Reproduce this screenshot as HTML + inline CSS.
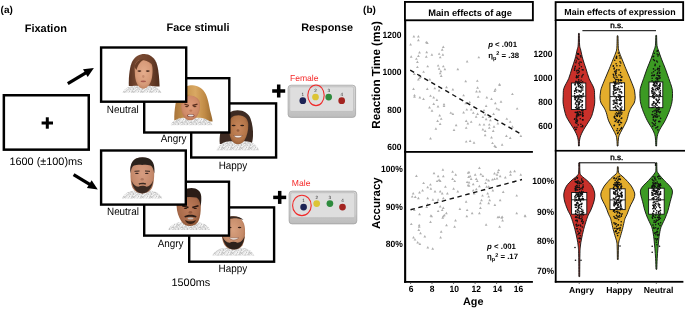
<!DOCTYPE html>
<html><head><meta charset="utf-8"><style>
html,body{margin:0;padding:0;background:#fff;}
svg{display:block;filter:blur(0.35px);}
text{font-family:"Liberation Sans",sans-serif;text-rendering:geometricPrecision;}
</style></head><body>
<svg width="685" height="309" viewBox="0 0 685 309" font-family="Liberation Sans, sans-serif">
<defs>
<filter id="bl" x="-20%" y="-20%" width="140%" height="140%"><feGaussianBlur stdDeviation="0.45"/></filter>
<filter id="bl2" x="-50%" y="-50%" width="200%" height="200%"><feGaussianBlur stdDeviation="0.7"/></filter>
<pattern id="knit" width="9" height="7" patternUnits="userSpaceOnUse"><rect x="0" y="0" width="1" height="1" fill="#e2e2e2"/><rect x="1" y="0" width="1" height="1" fill="#e8e8e8"/><rect x="2" y="0" width="1" height="1" fill="#f6f6f6"/><rect x="3" y="0" width="1" height="1" fill="#c4c4c4"/><rect x="4" y="0" width="1" height="1" fill="#f2f2f2"/><rect x="5" y="0" width="1" height="1" fill="#dcdcdc"/><rect x="6" y="0" width="1" height="1" fill="#c4c4c4"/><rect x="7" y="0" width="1" height="1" fill="#d6d6d6"/><rect x="8" y="0" width="1" height="1" fill="#cecece"/><rect x="0" y="1" width="1" height="1" fill="#e8e8e8"/><rect x="1" y="1" width="1" height="1" fill="#f2f2f2"/><rect x="2" y="1" width="1" height="1" fill="#dcdcdc"/><rect x="3" y="1" width="1" height="1" fill="#eeeeee"/><rect x="4" y="1" width="1" height="1" fill="#f6f6f6"/><rect x="5" y="1" width="1" height="1" fill="#cecece"/><rect x="6" y="1" width="1" height="1" fill="#dcdcdc"/><rect x="7" y="1" width="1" height="1" fill="#c4c4c4"/><rect x="8" y="1" width="1" height="1" fill="#dcdcdc"/><rect x="0" y="2" width="1" height="1" fill="#eeeeee"/><rect x="1" y="2" width="1" height="1" fill="#e2e2e2"/><rect x="2" y="2" width="1" height="1" fill="#d6d6d6"/><rect x="3" y="2" width="1" height="1" fill="#eeeeee"/><rect x="4" y="2" width="1" height="1" fill="#d6d6d6"/><rect x="5" y="2" width="1" height="1" fill="#cecece"/><rect x="6" y="2" width="1" height="1" fill="#d6d6d6"/><rect x="7" y="2" width="1" height="1" fill="#f2f2f2"/><rect x="8" y="2" width="1" height="1" fill="#d6d6d6"/><rect x="0" y="3" width="1" height="1" fill="#d6d6d6"/><rect x="1" y="3" width="1" height="1" fill="#c4c4c4"/><rect x="2" y="3" width="1" height="1" fill="#c4c4c4"/><rect x="3" y="3" width="1" height="1" fill="#dcdcdc"/><rect x="4" y="3" width="1" height="1" fill="#dcdcdc"/><rect x="5" y="3" width="1" height="1" fill="#d6d6d6"/><rect x="6" y="3" width="1" height="1" fill="#d6d6d6"/><rect x="7" y="3" width="1" height="1" fill="#e2e2e2"/><rect x="8" y="3" width="1" height="1" fill="#e8e8e8"/><rect x="0" y="4" width="1" height="1" fill="#dcdcdc"/><rect x="1" y="4" width="1" height="1" fill="#f6f6f6"/><rect x="2" y="4" width="1" height="1" fill="#dcdcdc"/><rect x="3" y="4" width="1" height="1" fill="#d6d6d6"/><rect x="4" y="4" width="1" height="1" fill="#dcdcdc"/><rect x="5" y="4" width="1" height="1" fill="#eeeeee"/><rect x="6" y="4" width="1" height="1" fill="#e2e2e2"/><rect x="7" y="4" width="1" height="1" fill="#c4c4c4"/><rect x="8" y="4" width="1" height="1" fill="#e8e8e8"/><rect x="0" y="5" width="1" height="1" fill="#eeeeee"/><rect x="1" y="5" width="1" height="1" fill="#d6d6d6"/><rect x="2" y="5" width="1" height="1" fill="#d6d6d6"/><rect x="3" y="5" width="1" height="1" fill="#e2e2e2"/><rect x="4" y="5" width="1" height="1" fill="#cecece"/><rect x="5" y="5" width="1" height="1" fill="#e8e8e8"/><rect x="6" y="5" width="1" height="1" fill="#e2e2e2"/><rect x="7" y="5" width="1" height="1" fill="#c4c4c4"/><rect x="8" y="5" width="1" height="1" fill="#e8e8e8"/><rect x="0" y="6" width="1" height="1" fill="#cecece"/><rect x="1" y="6" width="1" height="1" fill="#e2e2e2"/><rect x="2" y="6" width="1" height="1" fill="#e8e8e8"/><rect x="3" y="6" width="1" height="1" fill="#e2e2e2"/><rect x="4" y="6" width="1" height="1" fill="#f2f2f2"/><rect x="5" y="6" width="1" height="1" fill="#e8e8e8"/><rect x="6" y="6" width="1" height="1" fill="#d6d6d6"/><rect x="7" y="6" width="1" height="1" fill="#f2f2f2"/><rect x="8" y="6" width="1" height="1" fill="#f2f2f2"/></pattern>
<radialGradient id="skinA" cx="0.5" cy="0.45" r="0.6"><stop offset="0" stop-color="#e4ac8c"/><stop offset="0.7" stop-color="#d69a78"/><stop offset="1" stop-color="#b97c58"/></radialGradient>
<radialGradient id="skinB" cx="0.5" cy="0.45" r="0.6"><stop offset="0" stop-color="#df9c7a"/><stop offset="0.7" stop-color="#cf8a68"/><stop offset="1" stop-color="#b06e4c"/></radialGradient>
<radialGradient id="skinC" cx="0.5" cy="0.45" r="0.6"><stop offset="0" stop-color="#c8875c"/><stop offset="0.7" stop-color="#b27448"/><stop offset="1" stop-color="#8e5834"/></radialGradient>
<radialGradient id="skinD" cx="0.5" cy="0.45" r="0.6"><stop offset="0" stop-color="#d69c80"/><stop offset="0.7" stop-color="#c58a6c"/><stop offset="1" stop-color="#a26a4e"/></radialGradient>
<radialGradient id="skinE" cx="0.5" cy="0.45" r="0.6"><stop offset="0" stop-color="#be7c5a"/><stop offset="0.7" stop-color="#a86a4a"/><stop offset="1" stop-color="#86502f"/></radialGradient>
<radialGradient id="skinF" cx="0.5" cy="0.4" r="0.6"><stop offset="0" stop-color="#d8a07e"/><stop offset="0.7" stop-color="#c58b69"/><stop offset="1" stop-color="#a46a4a"/></radialGradient>
<linearGradient id="hairA" x1="0" y1="0" x2="1" y2="0"><stop offset="0" stop-color="#5a3423"/><stop offset="0.3" stop-color="#7a4a32"/><stop offset="0.7" stop-color="#6e412b"/><stop offset="1" stop-color="#4e2c1c"/></linearGradient>
<linearGradient id="hairB" x1="0" y1="0" x2="1" y2="0"><stop offset="0" stop-color="#a8743a"/><stop offset="0.3" stop-color="#c8954f"/><stop offset="0.55" stop-color="#d9a863"/><stop offset="0.8" stop-color="#c08a45"/><stop offset="1" stop-color="#9a6a30"/></linearGradient>
<linearGradient id="padg" x1="0" y1="0" x2="0" y2="1"><stop offset="0" stop-color="#d6d6d6"/><stop offset="0.7" stop-color="#d0d0d0"/><stop offset="0.8" stop-color="#c4c4c4"/><stop offset="1" stop-color="#bdbdbd"/></linearGradient>

</defs>
<rect width="685" height="309" fill="#fff"/>
<text x="0.6" y="12.7" font-size="10" font-weight="bold" text-anchor="start" fill="#000" >(a)</text>
<text x="24.7" y="31.5" font-size="11" font-weight="bold" text-anchor="start" fill="#000" >Fixation</text>
<text x="166.6" y="31.4" font-size="10.9" font-weight="bold" text-anchor="start" fill="#000" >Face stimuli</text>
<text x="301.2" y="31.2" font-size="10.85" font-weight="bold" text-anchor="start" fill="#000" >Response</text>
<rect x="3.85" y="95.25" width="84.90" height="54.40" fill="#fff" stroke="#000" stroke-width="2.5"/>
<rect x="41.60" y="121.50" width="11.4" height="3" fill="#000"/>
<rect x="45.80" y="117.30" width="3" height="11.4" fill="#000"/>
<text x="9.4" y="164.8" font-size="10.9" font-weight="normal" text-anchor="start" fill="#000" >1600 (±100)ms</text>
<line x1="67.8" y1="83.7" x2="86.20" y2="72.56" stroke="#000" stroke-width="3.3"/>
<polygon points="93.9,67.9 87.68,76.93 83.01,69.23" fill="#000"/>
<line x1="73.6" y1="174.6" x2="90.12" y2="184.70" stroke="#000" stroke-width="3.3"/>
<polygon points="97.8,189.4 86.92,188.02 91.62,180.34" fill="#000"/>
<rect x="191.20" y="103.40" width="84.90" height="54.10" fill="#fff" stroke="#000" stroke-width="2.4"/>
<g filter="url(#bl)"><path d="M219.8,144 C219,136 221,128 224,121 C227,113 232,110.3 237.5,110.3 C244,110.3 248.5,113.5 250.5,118.4 C252.5,124 253.3,130 253,136 C252.8,140 252.2,142.5 251.5,144 Z" fill="#3c2a20"/><path d="M216.3,150.3 C218.0,144.4 224.8,141.2 230.4,141.2 L244.9,141.2 C250.5,141.2 257.3,144.4 259.0,150.3 Z" fill="url(#knit)"/><path d="M228.9,124 C229.1,118.5 232.5,115.3 238.5,115.3 C244.5,115.3 248.1,119 248.3,124.5 C248.5,130 247,136 244.4,140.5 C242.5,143 240.4,144.2 238.3,144.2 C235.5,144.2 233.2,142.8 231.6,140.2 C229.5,136.5 228.7,129.5 228.9,124 Z" fill="url(#skinC)"/><ellipse cx="233.6" cy="125.5" rx="2" ry="0.8" fill="#2a1a12"/><ellipse cx="242.2" cy="125.5" rx="2" ry="0.8" fill="#2a1a12"/><ellipse cx="238" cy="130.5" rx="1.4" ry="1.2" fill="#8a5434" opacity="0.8"/><path d="M233.6,135.5 C235.5,138.6 240.5,138.6 242.6,135.5 Z" fill="#f2ebe6" stroke="#6a3424" stroke-width="0.4"/></g>
<rect x="144.20" y="78.20" width="85.10" height="54.30" fill="#fff" stroke="#000" stroke-width="2.4"/>
<g filter="url(#bl)"><path d="M174.3,120.5 C174,110 176,97 180,91 C183,87 188,85.2 192.5,85.2 C198,85.2 203.5,89 205.7,93.9 C208.5,100 209.5,108 210.5,112 C211.5,116 212.5,119 212.6,121.5 Z" fill="url(#hairB)"/><path d="M170.5,125.2 C172.2,120.4 178.9,117.8 184.4,117.8 L198.7,117.8 C204.2,117.8 210.9,120.4 212.6,125.2 Z" fill="url(#knit)"/><path d="M181,103 C181.5,98.5 185,95.5 189.5,95.5 C195,95.5 199.5,98.5 200,103.5 C200.3,108 199.5,112 197.5,115.5 C195.5,118.8 193,120.2 190.2,120.2 C187,120.2 184.5,118.5 183,115.5 C181.3,112 180.8,107 181,103 Z" fill="url(#skinB)"/><path d="M180.5,102 C182,96 186,94 190,94.8 C186.5,96.5 184,99 182.5,104 Z" fill="#c08a44"/><path d="M184.5,104.2 L189,105.5 M192.5,105.5 L197.5,104.2" stroke="#5a2e1e" stroke-width="1.3"/><ellipse cx="186.8" cy="106.6" rx="1.8" ry="0.7" fill="#4a2818"/><ellipse cx="194.8" cy="106.6" rx="1.8" ry="0.7" fill="#4a2818"/><ellipse cx="190.8" cy="110.6" rx="1.4" ry="1.2" fill="#b87050" opacity="0.8"/><ellipse cx="190.8" cy="115.5" rx="3.7" ry="1.6" fill="#7a3a2e"/><ellipse cx="190.8" cy="115.5" rx="3" ry="1" fill="#e8e4e2"/></g>
<rect x="101.10" y="47.50" width="85.10" height="54.20" fill="#fff" stroke="#000" stroke-width="2.4"/>
<g filter="url(#bl)"><path d="M128.8,86 C128.5,76 129.8,66 132.5,61 C135,56.5 139.5,54 144.4,54 C149.5,54 153.8,57 156.3,62.5 C158.6,68 159.2,78 159.6,86.5 Z" fill="url(#hairA)"/><path d="M122.5,92.8 C124.1,88.2 130.3,85.8 135.4,85.8 L148.6,85.8 C153.7,85.8 159.9,88.2 161.5,92.8 Z" fill="url(#knit)"/><path d="M134.6,68 C134.8,63.5 137,60.5 140,60 C143,59.5 148,60.5 151.5,64 C152.8,66 152.9,72 152.2,76 C151.5,82 148.5,88.3 143.3,88.7 C138.2,88.5 135.6,82 135,76 Z" fill="url(#skinA)"/><path d="M134.3,67 C136,61 140,59 144,59.4 C141,61 138,64 136.5,70 Z" fill="#6a3e28"/><ellipse cx="139.4" cy="71.1" rx="2" ry="0.8" fill="#4a2a1e"/><ellipse cx="147.8" cy="71.1" rx="2" ry="0.8" fill="#4a2a1e"/><ellipse cx="143.3" cy="76.5" rx="1.2" ry="1.4" fill="#c08468" opacity="0.8"/><ellipse cx="143.3" cy="81.4" rx="2.8" ry="0.8" fill="#a85a4e"/></g>
<text transform="translate(106.8,112.6) scale(1,1.08)" x="0" y="0" font-size="9.9" font-weight="normal" text-anchor="start" fill="#000" >Neutral</text>
<text transform="translate(160.7,142.1) scale(1,1.08)" x="0" y="0" font-size="9.9" font-weight="normal" text-anchor="start" fill="#000" >Angry</text>
<text transform="translate(218.7,168.8) scale(1,1.08)" x="0" y="0" font-size="9.9" font-weight="normal" text-anchor="start" fill="#000" >Happy</text>
<rect x="189.20" y="207.40" width="84.90" height="54.30" fill="#fff" stroke="#000" stroke-width="2.4"/>
<g filter="url(#bl)"><path d="M212.3,255.5 C214.0,250.4 220.7,247.7 226.2,247.7 L240.4,247.7 C245.9,247.7 252.6,250.4 254.3,255.5 Z" fill="url(#knit)"/><path d="M221.5,230 C221.5,222 226,216.3 233.5,216.3 C240.5,216.3 244.5,221.5 245,229 C245.3,235 244.8,241 242.5,245.3 C240.5,248.5 237.5,249.5 234,249.5 C230,249.5 226.5,248 224.5,245 C222.3,241.5 221.5,236 221.5,230 Z" fill="url(#skinF)"/><path d="M225,218.5 C227.5,216.8 230.5,216.2 233.5,216.2 C238,216.2 241.5,217.5 243.5,220 C240,218.6 236,218.2 233,218.4 C230,218.6 227,219.3 225,218.5 Z" fill="#3a2a22"/><path d="M222.3,236 C223.5,244 227.5,249.5 234,249.5 C240.5,249.5 243.8,244 244.6,236 C243,240.5 240.5,242.5 237.5,242.8 C235,241.5 232,241.5 229.5,242.8 C226.5,242.5 224,240.5 222.3,236 Z" fill="#2e221b"/><ellipse cx="229.8" cy="227.5" rx="1.8" ry="0.7" fill="#3a2218"/><ellipse cx="239.6" cy="227.5" rx="1.8" ry="0.7" fill="#3a2218"/><path d="M229,237.8 C231,240.6 236.5,240.6 238.8,237.8 Z" fill="#f1e8e2" stroke="#6a3a2a" stroke-width="0.4"/></g>
<rect x="144.20" y="181.70" width="84.80" height="53.90" fill="#fff" stroke="#000" stroke-width="2.4"/>
<g filter="url(#bl)"><path d="M168.0,230.0 C169.7,224.8 176.4,222.0 181.9,222.0 L196.1,222.0 C201.6,222.0 208.3,224.8 210.0,230.0 Z" fill="url(#knit)"/><path d="M176.6,206 C176.5,200 179.5,196.6 183,195.5 C187,194.4 193,194.4 196.5,195.5 C200,197 201,201 200.8,206 C200.8,212 200.3,217 198.5,221 C196.5,224.8 193.5,225.9 190.2,225.9 C186.5,225.9 183.5,224.8 181.5,221.5 C178.5,217 176.8,212 176.6,206 Z" fill="url(#skinE)"/><path d="M179.5,199 C180.5,191 186,187.9 191.5,187.9 C197,187.9 200.8,191 201.2,196 C201.5,199 201.2,203 200.7,206 C199.8,201 198.5,198.3 196,197.6 C192,196.8 187,196.8 183,197.6 C181.5,198 180.5,198.5 179.5,199 Z" fill="#2a1e18"/><path d="M182.2,205.8 L188.5,207.5 M192.3,207.5 L198.5,205.8" stroke="#2a1810" stroke-width="1.4"/><ellipse cx="185.6" cy="208.5" rx="1.8" ry="0.6" fill="#2a1810"/><ellipse cx="195.2" cy="208.5" rx="1.8" ry="0.6" fill="#2a1810"/><ellipse cx="190.4" cy="212.3" rx="1.8" ry="1.4" fill="#8a5036" opacity="0.8"/><path d="M184.3,216.3 C186.5,214.2 194.5,214.2 196.6,216.3 L196,217.6 C193.5,216.6 187.5,216.6 185,217.6 Z" fill="#2a1c16"/><ellipse cx="190.5" cy="218.5" rx="3" ry="1.0" fill="#c4b8b0"/><path d="M185,220 C186.5,225.4 194.5,225.4 196,220 C193.5,221.8 187.5,221.8 185,220 Z" fill="#3a2418"/></g>
<rect x="101.10" y="150.50" width="84.70" height="54.10" fill="#fff" stroke="#000" stroke-width="2.4"/>
<g filter="url(#bl)"><path d="M122.0,198.6 C123.6,193.3 130.1,190.4 135.3,190.4 L149.0,190.4 C154.2,190.4 160.7,193.3 162.3,198.6 Z" fill="url(#knit)"/><path d="M130.5,172 C130.2,165 132.5,160 137,158.3 C140,157.4 144,157.4 147,158.3 C152,160 154.5,165 154.2,172 C154.3,178 153.8,184 152,188 C150,191.5 146.5,193.3 142.3,193.4 C138,193.3 134.6,191.5 132.6,188 C130.8,184 130.3,178 130.5,172 Z" fill="url(#skinD)"/><path d="M130.4,173.5 C129.8,166 131.5,160.5 136,158.5 C140,156.8 145,156.8 149,158.5 C153.5,160.5 155,166 154.3,173.5 C153.5,169 152.5,166.5 150.5,165.5 C147,164.3 144,164.6 142.3,165 C140,164.6 137,164.3 134,165.5 C132,166.5 131,169 130.4,173.5 Z" fill="#2c221e"/><path d="M131.5,180.5 C132.5,187 136,193.2 142.3,193.4 C148.6,193.2 152.2,187 153.2,180.5 C151.5,184.5 149,186.5 146.5,186.8 C144.5,185.5 140.5,185.5 138.2,186.8 C135.5,186.5 133,184.5 131.5,180.5 Z" fill="#3a2c24"/><path d="M138.5,183.6 C140.5,182.6 144.5,182.6 146.2,183.6 L145.5,184.8 C143.5,184.2 141,184.2 139.2,184.8 Z" fill="#3a2a22"/><path d="M134.5,171.3 L139.5,171 M145,171 L150,171.3" stroke="#3a2820" stroke-width="1"/><ellipse cx="136.9" cy="173.4" rx="1.8" ry="0.7" fill="#3a2520"/><ellipse cx="146.8" cy="173.4" rx="1.8" ry="0.7" fill="#3a2520"/><ellipse cx="142.2" cy="179.2" rx="1.6" ry="1.3" fill="#a8705a" opacity="0.8"/></g>
<text transform="translate(107.0,215.4) scale(1,1.08)" x="0" y="0" font-size="9.9" font-weight="normal" text-anchor="start" fill="#000" >Neutral</text>
<text transform="translate(157.7,247.2) scale(1,1.08)" x="0" y="0" font-size="9.9" font-weight="normal" text-anchor="start" fill="#000" >Angry</text>
<text transform="translate(218.6,272.1) scale(1,1.08)" x="0" y="0" font-size="9.9" font-weight="normal" text-anchor="start" fill="#000" >Happy</text>
<text x="171.5" y="286.4" font-size="10.9" font-weight="normal" text-anchor="start" fill="#000" >1500ms</text>
<rect x="272.20" y="89.25" width="13" height="3.5" fill="#000"/>
<rect x="276.95" y="84.50" width="3.5" height="13" fill="#000"/>
<rect x="273.20" y="195.65" width="13" height="3.5" fill="#000"/>
<rect x="277.95" y="190.90" width="3.5" height="13" fill="#000"/>
<rect x="288.1" y="85.2" width="67.50" height="32.20" rx="3" fill="url(#padg)" stroke="#9c9c9c" stroke-width="0.7"/>
<rect x="289.7" y="86.8" width="63.90" height="24.60" rx="1.5" fill="#dedede" stroke="#b4b4b4" stroke-width="0.6"/>
<circle cx="302.80" cy="100.70" r="3.35" fill="#1c2355"/>
<text x="302.80" y="96.00" font-size="4.6" text-anchor="middle" fill="#333">1</text>
<circle cx="315.50" cy="97.00" r="3.35" fill="#dcc435"/>
<text x="315.50" y="92.30" font-size="4.6" text-anchor="middle" fill="#333">2</text>
<circle cx="328.70" cy="97.10" r="3.35" fill="#2e8b3d"/>
<text x="328.70" y="92.40" font-size="4.6" text-anchor="middle" fill="#333">3</text>
<circle cx="341.70" cy="100.70" r="3.35" fill="#a32420"/>
<text x="341.70" y="96.00" font-size="4.6" text-anchor="middle" fill="#333">4</text>
<ellipse cx="316" cy="95.3" rx="8.2" ry="10.3" fill="none" stroke="#f02a2a" stroke-width="1.1"/>
<rect x="289.1" y="191.1" width="67.70" height="32.80" rx="3" fill="url(#padg)" stroke="#9c9c9c" stroke-width="0.7"/>
<rect x="290.7" y="192.7" width="64.10" height="25.00" rx="1.5" fill="#dedede" stroke="#b4b4b4" stroke-width="0.6"/>
<circle cx="303.60" cy="207.10" r="3.35" fill="#1c2355"/>
<text x="303.60" y="202.40" font-size="4.6" text-anchor="middle" fill="#333">1</text>
<circle cx="316.70" cy="203.60" r="3.35" fill="#dcc435"/>
<text x="316.70" y="198.90" font-size="4.6" text-anchor="middle" fill="#333">2</text>
<circle cx="329.90" cy="203.60" r="3.35" fill="#2e8b3d"/>
<text x="329.90" y="198.90" font-size="4.6" text-anchor="middle" fill="#333">3</text>
<circle cx="342.50" cy="207.10" r="3.35" fill="#a32420"/>
<text x="342.50" y="202.40" font-size="4.6" text-anchor="middle" fill="#333">4</text>
<ellipse cx="301.9" cy="205.4" rx="9.3" ry="10.2" fill="none" stroke="#f02a2a" stroke-width="1.1"/>
<text x="289.9" y="80.7" font-size="8.6" font-weight="normal" text-anchor="start" fill="#f52a2a" >Female</text>
<text x="291.8" y="186.1" font-size="8.6" font-weight="normal" text-anchor="start" fill="#f52a2a" >Male</text>
<text x="363.1" y="12.6" font-size="10" font-weight="bold" text-anchor="start" fill="#000" >(b)</text>
<rect x="404.93" y="1.93" width="127.95" height="18.35" fill="#fff" stroke="#000" stroke-width="1.85"/>
<text x="470" y="15.6" font-size="9.3" font-weight="bold" text-anchor="middle" fill="#000" >Main effects of age</text>
<rect x="404.1" y="20" width="2.1" height="262.8" fill="#000"/>
<rect x="404.1" y="151.0" width="128.8" height="1.8" fill="#000"/>
<rect x="404.1" y="281.0" width="128.8" height="1.8" fill="#000"/>
<text transform="translate(401.4,37.7) scale(1,1.07)" x="0" y="0" font-size="8.5" font-weight="bold" text-anchor="end" fill="#000" >1200</text>
<text transform="translate(401.4,75.2) scale(1,1.07)" x="0" y="0" font-size="8.5" font-weight="bold" text-anchor="end" fill="#000" >1000</text>
<text transform="translate(401.4,112.7) scale(1,1.07)" x="0" y="0" font-size="8.5" font-weight="bold" text-anchor="end" fill="#000" >800</text>
<text transform="translate(401.4,150.20000000000002) scale(1,1.07)" x="0" y="0" font-size="8.5" font-weight="bold" text-anchor="end" fill="#000" >600</text>
<text transform="translate(402.8,172.4) scale(1,1.07)" x="0" y="0" font-size="8.5" font-weight="bold" text-anchor="end" fill="#000" >100%</text>
<text transform="translate(402.8,209.5) scale(1,1.07)" x="0" y="0" font-size="8.5" font-weight="bold" text-anchor="end" fill="#000" >90%</text>
<text transform="translate(402.8,247.4) scale(1,1.07)" x="0" y="0" font-size="8.5" font-weight="bold" text-anchor="end" fill="#000" >80%</text>
<text transform="translate(379.7,75) rotate(-90)" font-size="11.7" font-weight="bold" text-anchor="middle">Reaction Time (ms)</text>
<text transform="translate(379.9,203.2) rotate(-90)" font-size="11.5" font-weight="bold" text-anchor="middle">Accuracy</text>
<rect x="410.1" y="282.7" width="1" height="1.1" fill="#444"/>
<rect x="431.5" y="282.7" width="1" height="1.1" fill="#444"/>
<rect x="453.1" y="282.7" width="1" height="1.1" fill="#444"/>
<rect x="474.6" y="282.7" width="1" height="1.1" fill="#444"/>
<rect x="496.1" y="282.7" width="1" height="1.1" fill="#444"/>
<rect x="517.6" y="282.7" width="1" height="1.1" fill="#444"/>
<text transform="translate(411,291.8) scale(1,1.07)" x="0" y="0" font-size="8.5" font-weight="bold" text-anchor="middle" fill="#000" >6</text>
<text transform="translate(432.2,291.8) scale(1,1.07)" x="0" y="0" font-size="8.5" font-weight="bold" text-anchor="middle" fill="#000" >8</text>
<text transform="translate(454.3,291.8) scale(1,1.07)" x="0" y="0" font-size="8.5" font-weight="bold" text-anchor="middle" fill="#000" >10</text>
<text transform="translate(476.3,291.8) scale(1,1.07)" x="0" y="0" font-size="8.5" font-weight="bold" text-anchor="middle" fill="#000" >12</text>
<text transform="translate(497.6,291.8) scale(1,1.07)" x="0" y="0" font-size="8.5" font-weight="bold" text-anchor="middle" fill="#000" >14</text>
<text transform="translate(518.6,291.8) scale(1,1.07)" x="0" y="0" font-size="8.5" font-weight="bold" text-anchor="middle" fill="#000" >16</text>
<text x="473.2" y="305" font-size="10.8" font-weight="bold" text-anchor="middle" fill="#000" >Age</text>
<polygon points="413.9,35.1 412.5,37.6 415.2,37.6" fill="#b0b0b0"/>
<polygon points="418.4,35.1 417.0,37.6 419.8,37.6" fill="#b0b0b0"/>
<polygon points="418.4,38.8 417.0,41.2 419.8,41.2" fill="#b0b0b0"/>
<polygon points="410.6,43.0 409.2,45.5 412.0,45.5" fill="#b0b0b0"/>
<polygon points="426.3,40.8 424.9,43.2 427.7,43.2" fill="#b0b0b0"/>
<polygon points="427.3,41.6 425.9,44.1 428.7,44.1" fill="#b0b0b0"/>
<polygon points="443.3,45.5 441.9,48.0 444.7,48.0" fill="#b0b0b0"/>
<polygon points="442.2,48.2 440.8,50.7 443.6,50.7" fill="#b0b0b0"/>
<polygon points="419.5,51.1 418.1,53.6 420.9,53.6" fill="#b0b0b0"/>
<polygon points="426.7,50.8 425.3,53.2 428.1,53.2" fill="#b0b0b0"/>
<polygon points="431.9,53.2 430.5,55.7 433.2,55.7" fill="#b0b0b0"/>
<polygon points="439.1,52.4 437.8,54.8 440.5,54.8" fill="#b0b0b0"/>
<polygon points="442.9,53.2 441.5,55.7 444.2,55.7" fill="#b0b0b0"/>
<polygon points="440.2,55.9 438.8,58.3 441.6,58.3" fill="#b0b0b0"/>
<polygon points="411.2,55.2 409.8,57.7 412.6,57.7" fill="#b0b0b0"/>
<polygon points="418.4,54.4 417.0,56.9 419.8,56.9" fill="#b0b0b0"/>
<polygon points="416.4,57.4 415.0,59.8 417.8,59.8" fill="#b0b0b0"/>
<polygon points="426.3,55.2 424.9,57.7 427.7,57.7" fill="#b0b0b0"/>
<polygon points="417.4,60.6 416.0,63.1 418.8,63.1" fill="#b0b0b0"/>
<polygon points="467.1,60.0 465.8,62.5 468.5,62.5" fill="#b0b0b0"/>
<polygon points="417.4,65.7 416.0,68.1 418.8,68.1" fill="#b0b0b0"/>
<polygon points="427.7,64.9 426.3,67.3 429.1,67.3" fill="#b0b0b0"/>
<polygon points="438.1,64.2 436.8,66.6 439.5,66.6" fill="#b0b0b0"/>
<polygon points="443.3,64.9 441.9,67.3 444.7,67.3" fill="#b0b0b0"/>
<polygon points="439.1,67.2 437.8,69.7 440.5,69.7" fill="#b0b0b0"/>
<polygon points="444.9,67.8 443.5,70.2 446.2,70.2" fill="#b0b0b0"/>
<polygon points="457.8,67.8 456.4,70.2 459.2,70.2" fill="#b0b0b0"/>
<polygon points="423.6,70.4 422.2,72.8 425.0,72.8" fill="#b0b0b0"/>
<polygon points="440.8,69.8 439.4,72.2 442.2,72.2" fill="#b0b0b0"/>
<polygon points="414.3,72.5 412.9,74.9 415.7,74.9" fill="#b0b0b0"/>
<polygon points="419.5,74.0 418.1,76.4 420.9,76.4" fill="#b0b0b0"/>
<polygon points="420.5,75.6 419.1,78.0 421.9,78.0" fill="#b0b0b0"/>
<polygon points="440.2,71.9 438.8,74.3 441.6,74.3" fill="#b0b0b0"/>
<polygon points="441.2,74.6 439.8,77.0 442.6,77.0" fill="#b0b0b0"/>
<polygon points="418.4,78.1 417.0,80.5 419.8,80.5" fill="#b0b0b0"/>
<polygon points="465.7,79.8 464.3,82.2 467.1,82.2" fill="#b0b0b0"/>
<polygon points="429.8,78.1 428.4,80.5 431.2,80.5" fill="#b0b0b0"/>
<polygon points="419.5,76.7 418.1,79.1 420.9,79.1" fill="#b0b0b0"/>
<polygon points="478.8,55.9 477.4,58.3 480.2,58.3" fill="#b0b0b0"/>
<polygon points="477.3,79.4 475.9,81.8 478.7,81.8" fill="#b0b0b0"/>
<polygon points="499.5,82.9 498.1,85.3 500.9,85.3" fill="#b0b0b0"/>
<polygon points="413.5,87.5 412.1,89.9 414.9,89.9" fill="#b0b0b0"/>
<polygon points="427.3,87.5 425.9,89.9 428.7,89.9" fill="#b0b0b0"/>
<polygon points="434.8,86.9 433.4,89.3 436.2,89.3" fill="#b0b0b0"/>
<polygon points="439.1,89.0 437.8,91.4 440.5,91.4" fill="#b0b0b0"/>
<polygon points="414.5,93.9 413.1,96.3 415.9,96.3" fill="#b0b0b0"/>
<polygon points="414.5,95.4 413.1,97.8 415.9,97.8" fill="#b0b0b0"/>
<polygon points="419.9,96.1 418.5,98.5 421.2,98.5" fill="#b0b0b0"/>
<polygon points="423.5,97.6 422.1,100.0 424.9,100.0" fill="#b0b0b0"/>
<polygon points="430.5,94.4 429.1,96.8 431.9,96.8" fill="#b0b0b0"/>
<polygon points="433.7,96.1 432.3,98.5 435.1,98.5" fill="#b0b0b0"/>
<polygon points="436.9,98.6 435.5,101.0 438.2,101.0" fill="#b0b0b0"/>
<polygon points="444.0,102.9 442.6,105.3 445.4,105.3" fill="#b0b0b0"/>
<polygon points="444.0,104.6 442.6,107.0 445.4,107.0" fill="#b0b0b0"/>
<polygon points="433.7,102.5 432.3,104.9 435.1,104.9" fill="#b0b0b0"/>
<polygon points="438.0,105.0 436.6,107.4 439.4,107.4" fill="#b0b0b0"/>
<polygon points="429.5,106.1 428.1,108.5 430.9,108.5" fill="#b0b0b0"/>
<polygon points="432.0,109.2 430.6,111.7 433.4,111.7" fill="#b0b0b0"/>
<polygon points="450.8,111.4 449.4,113.8 452.2,113.8" fill="#b0b0b0"/>
<polygon points="452.9,112.5 451.5,114.9 454.2,114.9" fill="#b0b0b0"/>
<polygon points="439.7,114.0 438.3,116.4 441.1,116.4" fill="#b0b0b0"/>
<polygon points="441.2,117.4 439.8,119.8 442.6,119.8" fill="#b0b0b0"/>
<polygon points="437.6,119.5 436.2,121.9 439.0,121.9" fill="#b0b0b0"/>
<polygon points="440.1,122.5 438.8,124.9 441.5,124.9" fill="#b0b0b0"/>
<polygon points="456.1,123.8 454.8,126.2 457.5,126.2" fill="#b0b0b0"/>
<polygon points="435.9,127.3 434.5,129.8 437.2,129.8" fill="#b0b0b0"/>
<polygon points="454.0,128.5 452.6,130.9 455.4,130.9" fill="#b0b0b0"/>
<polygon points="430.5,137.0 429.1,139.4 431.9,139.4" fill="#b0b0b0"/>
<polygon points="452.9,88.0 451.5,90.4 454.2,90.4" fill="#b0b0b0"/>
<polygon points="446.5,85.8 445.1,88.2 447.9,88.2" fill="#b0b0b0"/>
<polygon points="463.6,93.9 462.2,96.3 465.0,96.3" fill="#b0b0b0"/>
<polygon points="465.7,101.8 464.3,104.2 467.1,104.2" fill="#b0b0b0"/>
<polygon points="463.6,111.0 462.2,113.4 465.0,113.4" fill="#b0b0b0"/>
<polygon points="466.8,108.2 465.4,110.6 468.2,110.6" fill="#b0b0b0"/>
<polygon points="466.2,119.5 464.8,121.9 467.6,121.9" fill="#b0b0b0"/>
<polygon points="467.9,122.1 466.5,124.5 469.2,124.5" fill="#b0b0b0"/>
<polygon points="466.2,126.4 464.8,128.8 467.6,128.8" fill="#b0b0b0"/>
<polygon points="466.2,140.2 464.8,142.6 467.6,142.6" fill="#b0b0b0"/>
<polygon points="477.6,86.2 476.2,88.7 479.0,88.7" fill="#b0b0b0"/>
<polygon points="476.5,90.1 475.1,92.5 477.9,92.5" fill="#b0b0b0"/>
<polygon points="479.7,90.1 478.3,92.5 481.1,92.5" fill="#b0b0b0"/>
<polygon points="495.3,88.0 493.9,90.4 496.7,90.4" fill="#b0b0b0"/>
<polygon points="494.7,89.7 493.3,92.1 496.1,92.1" fill="#b0b0b0"/>
<polygon points="499.6,83.7 498.2,86.1 501.0,86.1" fill="#b0b0b0"/>
<polygon points="512.4,92.7 511.0,95.1 513.8,95.1" fill="#b0b0b0"/>
<polygon points="478.2,95.4 476.8,97.8 479.6,97.8" fill="#b0b0b0"/>
<polygon points="486.8,96.1 485.4,98.5 488.2,98.5" fill="#b0b0b0"/>
<polygon points="491.5,97.6 490.1,100.0 492.9,100.0" fill="#b0b0b0"/>
<polygon points="469.7,100.8 468.3,103.2 471.1,103.2" fill="#b0b0b0"/>
<polygon points="501.0,100.2 499.6,102.7 502.4,102.7" fill="#b0b0b0"/>
<polygon points="495.3,101.8 493.9,104.2 496.7,104.2" fill="#b0b0b0"/>
<polygon points="486.1,104.6 484.8,107.0 487.5,107.0" fill="#b0b0b0"/>
<polygon points="496.8,107.2 495.4,109.6 498.2,109.6" fill="#b0b0b0"/>
<polygon points="498.9,108.2 497.5,110.6 500.2,110.6" fill="#b0b0b0"/>
<polygon points="517.1,107.2 515.8,109.6 518.5,109.6" fill="#b0b0b0"/>
<polygon points="471.2,108.2 469.8,110.6 472.6,110.6" fill="#b0b0b0"/>
<polygon points="473.3,111.4 471.9,113.8 474.7,113.8" fill="#b0b0b0"/>
<polygon points="477.6,112.5 476.2,114.9 479.0,114.9" fill="#b0b0b0"/>
<polygon points="484.0,108.9 482.6,111.3 485.4,111.3" fill="#b0b0b0"/>
<polygon points="485.1,113.1 483.8,115.5 486.5,115.5" fill="#b0b0b0"/>
<polygon points="493.6,112.5 492.2,114.9 495.0,114.9" fill="#b0b0b0"/>
<polygon points="476.1,115.2 474.8,117.7 477.5,117.7" fill="#b0b0b0"/>
<polygon points="482.9,115.7 481.5,118.1 484.2,118.1" fill="#b0b0b0"/>
<polygon points="489.3,115.7 487.9,118.1 490.7,118.1" fill="#b0b0b0"/>
<polygon points="486.1,117.8 484.8,120.2 487.5,120.2" fill="#b0b0b0"/>
<polygon points="490.4,118.9 489.0,121.3 491.8,121.3" fill="#b0b0b0"/>
<polygon points="471.2,120.4 469.8,122.8 472.6,122.8" fill="#b0b0b0"/>
<polygon points="506.8,117.4 505.4,119.8 508.2,119.8" fill="#b0b0b0"/>
<polygon points="510.2,120.4 508.8,122.8 511.6,122.8" fill="#b0b0b0"/>
<polygon points="479.7,123.2 478.3,125.6 481.1,125.6" fill="#b0b0b0"/>
<polygon points="484.0,123.2 482.6,125.6 485.4,125.6" fill="#b0b0b0"/>
<polygon points="489.3,123.2 487.9,125.6 490.7,125.6" fill="#b0b0b0"/>
<polygon points="494.0,125.2 492.6,127.7 495.4,127.7" fill="#b0b0b0"/>
<polygon points="497.9,122.1 496.5,124.5 499.2,124.5" fill="#b0b0b0"/>
<polygon points="489.3,126.4 487.9,128.8 490.7,128.8" fill="#b0b0b0"/>
<polygon points="512.4,125.2 511.0,127.7 513.8,127.7" fill="#b0b0b0"/>
<polygon points="482.9,128.1 481.5,130.5 484.2,130.5" fill="#b0b0b0"/>
<polygon points="485.1,129.6 483.8,132.0 486.5,132.0" fill="#b0b0b0"/>
<polygon points="493.2,129.6 491.8,132.0 494.6,132.0" fill="#b0b0b0"/>
<polygon points="485.1,133.8 483.8,136.2 486.5,136.2" fill="#b0b0b0"/>
<polygon points="506.4,134.5 505.0,136.9 507.8,136.9" fill="#b0b0b0"/>
<polygon points="510.2,136.6 508.8,139.0 511.6,139.0" fill="#b0b0b0"/>
<polygon points="520.9,134.5 519.5,136.9 522.2,136.9" fill="#b0b0b0"/>
<polygon points="491.5,136.0 490.1,138.4 492.9,138.4" fill="#b0b0b0"/>
<polygon points="470.1,139.6 468.8,142.0 471.5,142.0" fill="#b0b0b0"/>
<polygon points="474.0,141.2 472.6,143.7 475.4,143.7" fill="#b0b0b0"/>
<polygon points="492.5,141.7 491.1,144.1 493.9,144.1" fill="#b0b0b0"/>
<polygon points="494.7,144.5 493.3,146.9 496.1,146.9" fill="#b0b0b0"/>
<polygon points="495.7,145.6 494.3,148.0 497.1,148.0" fill="#b0b0b0"/>
<polygon points="502.1,143.3 500.8,145.8 503.5,145.8" fill="#b0b0b0"/>
<polygon points="442.9,168.2 441.5,170.7 444.2,170.7" fill="#b0b0b0"/>
<polygon points="434.0,171.8 432.6,174.2 435.4,174.2" fill="#b0b0b0"/>
<polygon points="416.4,174.5 415.0,176.9 417.8,176.9" fill="#b0b0b0"/>
<polygon points="438.1,174.8 436.8,177.3 439.5,177.3" fill="#b0b0b0"/>
<polygon points="443.3,174.8 441.9,177.3 444.7,177.3" fill="#b0b0b0"/>
<polygon points="452.6,170.2 451.2,172.7 454.0,172.7" fill="#b0b0b0"/>
<polygon points="455.7,173.3 454.3,175.8 457.1,175.8" fill="#b0b0b0"/>
<polygon points="439.1,178.6 437.8,181.0 440.5,181.0" fill="#b0b0b0"/>
<polygon points="437.1,179.7 435.8,182.1 438.5,182.1" fill="#b0b0b0"/>
<polygon points="440.2,179.7 438.8,182.1 441.6,182.1" fill="#b0b0b0"/>
<polygon points="452.6,177.6 451.2,180.0 454.0,180.0" fill="#b0b0b0"/>
<polygon points="454.7,179.7 453.3,182.1 456.1,182.1" fill="#b0b0b0"/>
<polygon points="468.1,171.3 466.8,173.8 469.5,173.8" fill="#b0b0b0"/>
<polygon points="468.6,175.5 467.2,177.9 470.0,177.9" fill="#b0b0b0"/>
<polygon points="467.1,180.7 465.8,183.1 468.5,183.1" fill="#b0b0b0"/>
<polygon points="468.1,183.8 466.8,186.2 469.5,186.2" fill="#b0b0b0"/>
<polygon points="423.6,181.7 422.2,184.1 425.0,184.1" fill="#b0b0b0"/>
<polygon points="430.4,183.2 429.0,185.6 431.8,185.6" fill="#b0b0b0"/>
<polygon points="427.7,185.8 426.3,188.3 429.1,188.3" fill="#b0b0b0"/>
<polygon points="445.4,185.2 444.0,187.7 446.8,187.7" fill="#b0b0b0"/>
<polygon points="435.0,190.0 433.6,192.4 436.4,192.4" fill="#b0b0b0"/>
<polygon points="440.2,190.0 438.8,192.4 441.6,192.4" fill="#b0b0b0"/>
<polygon points="442.2,192.1 440.8,194.5 443.6,194.5" fill="#b0b0b0"/>
<polygon points="430.9,187.2 429.5,189.7 432.2,189.7" fill="#b0b0b0"/>
<polygon points="422.6,189.0 421.2,191.4 424.0,191.4" fill="#b0b0b0"/>
<polygon points="419.5,191.1 418.1,193.5 420.9,193.5" fill="#b0b0b0"/>
<polygon points="413.2,192.1 411.8,194.5 414.6,194.5" fill="#b0b0b0"/>
<polygon points="453.6,187.2 452.2,189.7 455.0,189.7" fill="#b0b0b0"/>
<polygon points="457.8,190.0 456.4,192.4 459.2,192.4" fill="#b0b0b0"/>
<polygon points="447.4,192.1 446.0,194.5 448.8,194.5" fill="#b0b0b0"/>
<polygon points="412.2,195.2 410.8,197.6 413.6,197.6" fill="#b0b0b0"/>
<polygon points="415.3,195.6 413.9,198.0 416.7,198.0" fill="#b0b0b0"/>
<polygon points="418.4,196.8 417.0,199.3 419.8,199.3" fill="#b0b0b0"/>
<polygon points="427.7,196.8 426.3,199.3 429.1,199.3" fill="#b0b0b0"/>
<polygon points="432.9,198.2 431.5,200.7 434.2,200.7" fill="#b0b0b0"/>
<polygon points="438.1,198.2 436.8,200.7 439.5,200.7" fill="#b0b0b0"/>
<polygon points="443.3,196.8 441.9,199.3 444.7,199.3" fill="#b0b0b0"/>
<polygon points="466.1,200.3 464.8,202.8 467.5,202.8" fill="#b0b0b0"/>
<polygon points="427.7,203.1 426.3,205.5 429.1,205.5" fill="#b0b0b0"/>
<polygon points="426.7,205.6 425.3,208.0 428.1,208.0" fill="#b0b0b0"/>
<polygon points="414.3,208.7 412.9,211.1 415.7,211.1" fill="#b0b0b0"/>
<polygon points="440.2,205.1 438.8,207.5 441.6,207.5" fill="#b0b0b0"/>
<polygon points="443.3,206.6 441.9,209.0 444.7,209.0" fill="#b0b0b0"/>
<polygon points="442.2,208.7 440.8,211.1 443.6,211.1" fill="#b0b0b0"/>
<polygon points="459.9,207.6 458.5,210.0 461.2,210.0" fill="#b0b0b0"/>
<polygon points="467.1,208.7 465.8,211.1 468.5,211.1" fill="#b0b0b0"/>
<polygon points="419.5,212.8 418.1,215.2 420.9,215.2" fill="#b0b0b0"/>
<polygon points="430.9,214.2 429.5,216.7 432.2,216.7" fill="#b0b0b0"/>
<polygon points="438.1,209.7 436.8,212.1 439.5,212.1" fill="#b0b0b0"/>
<polygon points="446.4,211.8 445.0,214.2 447.8,214.2" fill="#b0b0b0"/>
<polygon points="444.3,213.8 442.9,216.2 445.7,216.2" fill="#b0b0b0"/>
<polygon points="479.4,166.6 478.0,169.0 480.8,169.0" fill="#b0b0b0"/>
<polygon points="498.7,168.7 497.3,171.1 500.1,171.1" fill="#b0b0b0"/>
<polygon points="498.0,170.8 496.6,173.2 499.4,173.2" fill="#b0b0b0"/>
<polygon points="510.5,170.2 509.1,172.7 511.9,172.7" fill="#b0b0b0"/>
<polygon points="514.6,169.8 513.2,172.3 516.0,172.3" fill="#b0b0b0"/>
<polygon points="469.0,170.8 467.6,173.2 470.4,173.2" fill="#b0b0b0"/>
<polygon points="475.2,173.3 473.8,175.8 476.6,175.8" fill="#b0b0b0"/>
<polygon points="480.8,172.8 479.4,175.2 482.2,175.2" fill="#b0b0b0"/>
<polygon points="482.9,174.5 481.5,176.9 484.2,176.9" fill="#b0b0b0"/>
<polygon points="494.5,172.0 493.1,174.4 495.9,174.4" fill="#b0b0b0"/>
<polygon points="497.0,173.3 495.6,175.8 498.4,175.8" fill="#b0b0b0"/>
<polygon points="500.1,174.8 498.8,177.3 501.5,177.3" fill="#b0b0b0"/>
<polygon points="505.3,176.1 503.9,178.5 506.7,178.5" fill="#b0b0b0"/>
<polygon points="510.5,173.3 509.1,175.8 511.9,175.8" fill="#b0b0b0"/>
<polygon points="520.8,173.3 519.4,175.8 522.1,175.8" fill="#b0b0b0"/>
<polygon points="470.1,174.8 468.8,177.3 471.5,177.3" fill="#b0b0b0"/>
<polygon points="471.1,177.6 469.8,180.0 472.5,180.0" fill="#b0b0b0"/>
<polygon points="476.3,177.6 474.9,180.0 477.7,180.0" fill="#b0b0b0"/>
<polygon points="486.6,178.2 485.2,180.6 488.0,180.6" fill="#b0b0b0"/>
<polygon points="488.7,179.0 487.3,181.4 490.1,181.4" fill="#b0b0b0"/>
<polygon points="492.4,178.2 491.0,180.6 493.8,180.6" fill="#b0b0b0"/>
<polygon points="494.5,177.6 493.1,180.0 495.9,180.0" fill="#b0b0b0"/>
<polygon points="497.0,177.0 495.6,179.4 498.4,179.4" fill="#b0b0b0"/>
<polygon points="469.0,181.1 467.6,183.5 470.4,183.5" fill="#b0b0b0"/>
<polygon points="473.2,182.8 471.8,185.2 474.6,185.2" fill="#b0b0b0"/>
<polygon points="477.3,179.7 475.9,182.1 478.7,182.1" fill="#b0b0b0"/>
<polygon points="485.6,181.7 484.2,184.1 487.0,184.1" fill="#b0b0b0"/>
<polygon points="513.6,180.7 512.2,183.1 515.0,183.1" fill="#b0b0b0"/>
<polygon points="469.0,184.3 467.6,186.8 470.4,186.8" fill="#b0b0b0"/>
<polygon points="479.4,184.8 478.0,187.2 480.8,187.2" fill="#b0b0b0"/>
<polygon points="486.6,185.2 485.2,187.7 488.0,187.7" fill="#b0b0b0"/>
<polygon points="488.7,185.2 487.3,187.7 490.1,187.7" fill="#b0b0b0"/>
<polygon points="473.2,189.0 471.8,191.4 474.6,191.4" fill="#b0b0b0"/>
<polygon points="476.3,187.8 474.9,190.3 477.7,190.3" fill="#b0b0b0"/>
<polygon points="492.9,189.0 491.5,191.4 494.2,191.4" fill="#b0b0b0"/>
<polygon points="503.2,190.6 501.8,193.0 504.6,193.0" fill="#b0b0b0"/>
<polygon points="474.2,192.1 472.8,194.5 475.6,194.5" fill="#b0b0b0"/>
<polygon points="482.5,194.2 481.1,196.6 483.9,196.6" fill="#b0b0b0"/>
<polygon points="487.7,192.1 486.3,194.5 489.1,194.5" fill="#b0b0b0"/>
<polygon points="516.7,194.2 515.4,196.6 518.1,196.6" fill="#b0b0b0"/>
<polygon points="481.5,198.8 480.1,201.3 482.9,201.3" fill="#b0b0b0"/>
<polygon points="488.7,195.2 487.3,197.6 490.1,197.6" fill="#b0b0b0"/>
<polygon points="489.7,198.8 488.3,201.3 491.1,201.3" fill="#b0b0b0"/>
<polygon points="500.1,198.8 498.8,201.3 501.5,201.3" fill="#b0b0b0"/>
<polygon points="480.4,201.8 479.0,204.2 481.8,204.2" fill="#b0b0b0"/>
<polygon points="488.7,201.8 487.3,204.2 490.1,204.2" fill="#b0b0b0"/>
<polygon points="494.9,203.5 493.5,205.9 496.2,205.9" fill="#b0b0b0"/>
<polygon points="480.4,206.6 479.0,209.0 481.8,209.0" fill="#b0b0b0"/>
<polygon points="472.1,211.8 470.8,214.2 473.5,214.2" fill="#b0b0b0"/>
<polygon points="479.4,211.8 478.0,214.2 480.8,214.2" fill="#b0b0b0"/>
<polygon points="516.7,211.8 515.4,214.2 518.1,214.2" fill="#b0b0b0"/>
<polygon points="499.1,215.5 497.8,217.9 500.5,217.9" fill="#b0b0b0"/>
<polygon points="502.2,215.5 500.8,217.9 503.6,217.9" fill="#b0b0b0"/>
<polygon points="525.0,214.2 523.6,216.7 526.4,216.7" fill="#b0b0b0"/>
<polygon points="411.3,222.7 409.9,225.1 412.7,225.1" fill="#b0b0b0"/>
<polygon points="419.2,223.8 417.8,226.3 420.6,226.3" fill="#b0b0b0"/>
<polygon points="419.2,225.3 417.8,227.8 420.6,227.8" fill="#b0b0b0"/>
<polygon points="430.5,220.5 429.1,222.9 431.9,222.9" fill="#b0b0b0"/>
<polygon points="431.6,214.8 430.2,217.2 433.0,217.2" fill="#b0b0b0"/>
<polygon points="443.3,214.8 441.9,217.2 444.7,217.2" fill="#b0b0b0"/>
<polygon points="442.7,216.2 441.3,218.7 444.1,218.7" fill="#b0b0b0"/>
<polygon points="455.5,219.0 454.1,221.4 456.9,221.4" fill="#b0b0b0"/>
<polygon points="466.8,214.8 465.4,217.2 468.2,217.2" fill="#b0b0b0"/>
<polygon points="446.5,223.8 445.1,226.3 447.9,226.3" fill="#b0b0b0"/>
<polygon points="454.6,225.3 453.2,227.8 456.0,227.8" fill="#b0b0b0"/>
<polygon points="418.8,228.6 417.4,231.0 420.2,231.0" fill="#b0b0b0"/>
<polygon points="420.5,231.8 419.1,234.2 421.9,234.2" fill="#b0b0b0"/>
<polygon points="424.8,235.0 423.4,237.4 426.2,237.4" fill="#b0b0b0"/>
<polygon points="441.2,230.2 439.8,232.7 442.6,232.7" fill="#b0b0b0"/>
<polygon points="440.6,236.1 439.2,238.5 442.0,238.5" fill="#b0b0b0"/>
<polygon points="413.5,236.1 412.1,238.5 414.9,238.5" fill="#b0b0b0"/>
<polygon points="415.0,238.2 413.6,240.6 416.4,240.6" fill="#b0b0b0"/>
<polygon points="417.7,241.0 416.3,243.4 419.1,243.4" fill="#b0b0b0"/>
<polygon points="419.9,242.5 418.5,244.9 421.2,244.9" fill="#b0b0b0"/>
<polygon points="427.8,246.1 426.4,248.5 429.2,248.5" fill="#b0b0b0"/>
<polygon points="432.7,247.3 431.3,249.8 434.1,249.8" fill="#b0b0b0"/>
<polygon points="497.9,215.8 496.5,218.2 499.2,218.2" fill="#b0b0b0"/>
<polygon points="501.7,216.2 500.3,218.7 503.1,218.7" fill="#b0b0b0"/>
<polygon points="502.6,219.0 501.2,221.4 504.0,221.4" fill="#b0b0b0"/>
<polygon points="525.2,214.8 523.9,217.2 526.6,217.2" fill="#b0b0b0"/>
<polygon points="486.1,223.2 484.8,225.7 487.5,225.7" fill="#b0b0b0"/>
<polygon points="499.6,225.3 498.2,227.8 501.0,227.8" fill="#b0b0b0"/>
<line x1="410.2" y1="70.2" x2="521.5" y2="134.4" stroke="#111" stroke-width="1.4" stroke-dasharray="4.5,3.6"/>
<line x1="410.5" y1="209.8" x2="522" y2="179.5" stroke="#111" stroke-width="1.4" stroke-dasharray="4.5,3.6"/>
<text x="488.2" y="47" font-size="7.8" font-weight="bold"><tspan font-style="italic">p</tspan> &lt; .001</text>
<text x="488.2" y="57.7" font-size="7.8" font-weight="bold">η<tspan font-size="5.5" dy="2">p</tspan><tspan font-size="5.5" dy="-4.3">2</tspan><tspan dy="2.3"> = .38</tspan></text>
<text x="487.1" y="249.2" font-size="7.8" font-weight="bold"><tspan font-style="italic">p</tspan> &lt; .001</text>
<text x="487.1" y="259.3" font-size="7.8" font-weight="bold">η<tspan font-size="5.5" dy="2">p</tspan><tspan font-size="5.5" dy="-4.3">2</tspan><tspan dy="2.3"> = .17</tspan></text>
<rect x="555.62" y="2.12" width="127.55" height="17.95" fill="#fff" stroke="#000" stroke-width="1.85"/>
<text x="620" y="15.3" font-size="8.87" font-weight="bold" text-anchor="middle" fill="#000" >Main effects of expression</text>
<rect x="554.8" y="20" width="1.8" height="262.6" fill="#000"/>
<rect x="554.8" y="149.9" width="130.2" height="1.7" fill="#000"/>
<rect x="554.8" y="280.9" width="128.6" height="1.8" fill="#000"/>
<text transform="translate(552.4,57.0) scale(1,1.07)" x="0" y="0" font-size="8.5" font-weight="bold" text-anchor="end" fill="#000" >1200</text>
<text transform="translate(552.4,80.9) scale(1,1.07)" x="0" y="0" font-size="8.5" font-weight="bold" text-anchor="end" fill="#000" >1000</text>
<text transform="translate(552.4,105.10000000000001) scale(1,1.07)" x="0" y="0" font-size="8.5" font-weight="bold" text-anchor="end" fill="#000" >800</text>
<text transform="translate(552.4,129.3) scale(1,1.07)" x="0" y="0" font-size="8.5" font-weight="bold" text-anchor="end" fill="#000" >600</text>
<text transform="translate(554.0,183.9) scale(1,1.07)" x="0" y="0" font-size="8.5" font-weight="bold" text-anchor="end" fill="#000" >100%</text>
<text transform="translate(554.0,214.9) scale(1,1.07)" x="0" y="0" font-size="8.5" font-weight="bold" text-anchor="end" fill="#000" >90%</text>
<text transform="translate(554.0,244.0) scale(1,1.07)" x="0" y="0" font-size="8.5" font-weight="bold" text-anchor="end" fill="#000" >80%</text>
<text transform="translate(554.0,274.0) scale(1,1.07)" x="0" y="0" font-size="8.5" font-weight="bold" text-anchor="end" fill="#000" >70%</text>
<text x="581.5" y="292.5" font-size="8.6" font-weight="bold" text-anchor="middle" fill="#000" >Angry</text>
<text x="619.5" y="292.5" font-size="8.6" font-weight="bold" text-anchor="middle" fill="#000" >Happy</text>
<text x="658.5" y="292.5" font-size="8.6" font-weight="bold" text-anchor="middle" fill="#000" >Neutral</text>
<rect x="578.7" y="282.6" width="1" height="1.2" fill="#444"/>
<rect x="617.1" y="282.6" width="1" height="1.2" fill="#444"/>
<rect x="655.8" y="282.6" width="1" height="1.2" fill="#444"/>
<text x="616.7" y="28.2" font-size="8.1" font-weight="normal" text-anchor="middle" fill="#000" stroke="#000" stroke-width="0.35">n.s.</text>
<line x1="582.4" y1="30.7" x2="656" y2="30.7" stroke="#000" stroke-width="1"/>
<text x="616.8" y="160" font-size="8.1" font-weight="normal" text-anchor="middle" fill="#000" stroke="#000" stroke-width="0.35">n.s.</text>
<path d="M579.2,166 V162.8 H655.4 V166" fill="none" stroke="#000" stroke-width="1"/>
<path d="M579.30,33.40 C579.35,35.33 579.37,42.23 579.60,45.00 C579.83,47.77 580.17,47.67 580.70,50.00 C581.23,52.33 581.92,55.87 582.80,59.00 C583.68,62.13 584.95,65.55 586.00,68.80 C587.05,72.05 587.78,75.25 589.10,78.50 C590.42,81.75 592.98,85.38 593.90,88.30 C594.82,91.22 594.47,93.55 594.60,96.00 C594.73,98.45 594.90,100.67 594.70,103.00 C594.50,105.33 593.93,107.73 593.40,110.00 C592.87,112.27 592.33,114.60 591.50,116.60 C590.67,118.60 589.45,120.25 588.40,122.00 C587.35,123.75 586.12,125.60 585.20,127.10 C584.28,128.60 583.63,129.60 582.90,131.00 C582.17,132.40 581.35,134.00 580.80,135.50 C580.25,137.00 579.85,138.25 579.60,140.00 C579.35,141.75 579.35,145.00 579.30,146.00 L578.50,146.00 C578.45,145.00 578.45,141.75 578.20,140.00 C577.95,138.25 577.55,137.00 577.00,135.50 C576.45,134.00 575.63,132.40 574.90,131.00 C574.17,129.60 573.52,128.60 572.60,127.10 C571.68,125.60 570.45,123.75 569.40,122.00 C568.35,120.25 567.13,118.60 566.30,116.60 C565.47,114.60 564.93,112.27 564.40,110.00 C563.87,107.73 563.30,105.33 563.10,103.00 C562.90,100.67 563.07,98.45 563.20,96.00 C563.33,93.55 562.98,91.22 563.90,88.30 C564.82,85.38 567.38,81.75 568.70,78.50 C570.02,75.25 570.75,72.05 571.80,68.80 C572.85,65.55 574.12,62.13 575.00,59.00 C575.88,55.87 576.57,52.33 577.10,50.00 C577.63,47.67 577.97,47.77 578.20,45.00 C578.43,42.23 578.45,35.33 578.50,33.40Z" fill="#c9302a" stroke="#111" stroke-width="0.9" stroke-linejoin="round"/>
<rect x="571.4" y="83" width="14.399999999999977" height="26.5" fill="#fff" stroke="#111" stroke-width="0.9"/>
<line x1="571.4" y1="96.2" x2="585.8" y2="96.2" stroke="#111" stroke-width="0.9"/>
<circle cx="580.0" cy="62.0" r="0.8" fill="#111"/>
<circle cx="579.0" cy="63.3" r="0.8" fill="#111"/>
<circle cx="578.7" cy="54.2" r="0.8" fill="#111"/>
<circle cx="576.5" cy="77.6" r="0.8" fill="#111"/>
<circle cx="583.1" cy="69.9" r="0.8" fill="#111"/>
<circle cx="576.3" cy="61.0" r="0.8" fill="#111"/>
<circle cx="579.3" cy="71.8" r="0.8" fill="#111"/>
<circle cx="578.0" cy="53.9" r="0.8" fill="#111"/>
<circle cx="577.3" cy="73.1" r="0.8" fill="#111"/>
<circle cx="577.1" cy="70.2" r="0.8" fill="#111"/>
<circle cx="576.6" cy="76.6" r="0.8" fill="#111"/>
<circle cx="582.2" cy="69.8" r="0.8" fill="#111"/>
<circle cx="583.1" cy="74.6" r="0.8" fill="#111"/>
<circle cx="578.8" cy="75.5" r="0.8" fill="#111"/>
<circle cx="582.2" cy="75.7" r="0.8" fill="#111"/>
<circle cx="578.5" cy="70.4" r="0.8" fill="#111"/>
<circle cx="577.9" cy="77.5" r="0.8" fill="#111"/>
<circle cx="578.6" cy="72.7" r="0.8" fill="#111"/>
<circle cx="576.9" cy="57.2" r="0.8" fill="#111"/>
<circle cx="576.7" cy="75.8" r="0.8" fill="#111"/>
<circle cx="576.1" cy="81.7" r="0.8" fill="#111"/>
<circle cx="578.8" cy="59.2" r="0.8" fill="#111"/>
<circle cx="574.5" cy="70.3" r="0.8" fill="#111"/>
<circle cx="579.5" cy="65.0" r="0.8" fill="#111"/>
<circle cx="579.0" cy="81.5" r="0.8" fill="#111"/>
<circle cx="578.0" cy="76.7" r="0.8" fill="#111"/>
<circle cx="578.0" cy="53.9" r="0.8" fill="#111"/>
<circle cx="577.9" cy="53.6" r="0.8" fill="#111"/>
<circle cx="576.7" cy="71.0" r="0.8" fill="#111"/>
<circle cx="575.9" cy="62.8" r="0.8" fill="#111"/>
<circle cx="575.3" cy="66.4" r="0.8" fill="#111"/>
<circle cx="580.9" cy="57.0" r="0.8" fill="#111"/>
<circle cx="579.3" cy="68.4" r="0.8" fill="#111"/>
<circle cx="580.6" cy="82.3" r="0.8" fill="#111"/>
<circle cx="581.2" cy="62.2" r="0.8" fill="#111"/>
<circle cx="581.6" cy="82.5" r="0.8" fill="#111"/>
<circle cx="576.5" cy="77.4" r="0.8" fill="#111"/>
<circle cx="574.8" cy="68.0" r="0.8" fill="#111"/>
<circle cx="582.7" cy="81.7" r="0.8" fill="#111"/>
<circle cx="577.7" cy="82.6" r="0.8" fill="#111"/>
<circle cx="577.3" cy="58.8" r="0.8" fill="#111"/>
<circle cx="578.7" cy="79.9" r="0.8" fill="#111"/>
<circle cx="581.1" cy="80.2" r="0.8" fill="#111"/>
<circle cx="581.4" cy="66.8" r="0.8" fill="#111"/>
<circle cx="578.0" cy="82.1" r="0.8" fill="#111"/>
<circle cx="576.0" cy="81.4" r="0.8" fill="#111"/>
<circle cx="580.5" cy="55.9" r="0.8" fill="#111"/>
<circle cx="581.8" cy="77.0" r="0.8" fill="#111"/>
<circle cx="577.6" cy="82.4" r="0.8" fill="#111"/>
<circle cx="574.6" cy="69.0" r="0.8" fill="#111"/>
<circle cx="579.1" cy="108.7" r="0.8" fill="#111"/>
<circle cx="582.2" cy="107.7" r="0.8" fill="#111"/>
<circle cx="576.7" cy="104.9" r="0.8" fill="#111"/>
<circle cx="579.7" cy="90.8" r="0.8" fill="#111"/>
<circle cx="575.7" cy="89.9" r="0.8" fill="#111"/>
<circle cx="578.5" cy="107.1" r="0.8" fill="#111"/>
<circle cx="578.2" cy="98.5" r="0.8" fill="#111"/>
<circle cx="579.2" cy="107.3" r="0.8" fill="#111"/>
<circle cx="578.4" cy="96.9" r="0.8" fill="#111"/>
<circle cx="581.5" cy="87.9" r="0.8" fill="#111"/>
<circle cx="580.9" cy="87.6" r="0.8" fill="#111"/>
<circle cx="579.1" cy="97.7" r="0.8" fill="#111"/>
<circle cx="575.4" cy="97.7" r="0.8" fill="#111"/>
<circle cx="576.9" cy="97.8" r="0.8" fill="#111"/>
<circle cx="579.4" cy="103.5" r="0.8" fill="#111"/>
<circle cx="578.4" cy="103.1" r="0.8" fill="#111"/>
<circle cx="579.0" cy="99.2" r="0.8" fill="#111"/>
<circle cx="579.2" cy="101.4" r="0.8" fill="#111"/>
<circle cx="580.7" cy="95.7" r="0.8" fill="#111"/>
<circle cx="576.8" cy="106.2" r="0.8" fill="#111"/>
<circle cx="581.9" cy="97.8" r="0.8" fill="#111"/>
<circle cx="578.4" cy="86.6" r="0.8" fill="#111"/>
<circle cx="575.1" cy="84.9" r="0.8" fill="#111"/>
<circle cx="582.4" cy="100.7" r="0.8" fill="#111"/>
<circle cx="580.3" cy="87.1" r="0.8" fill="#111"/>
<circle cx="583.0" cy="86.8" r="0.8" fill="#111"/>
<circle cx="583.2" cy="93.6" r="0.8" fill="#111"/>
<circle cx="578.3" cy="105.1" r="0.8" fill="#111"/>
<circle cx="576.2" cy="96.7" r="0.8" fill="#111"/>
<circle cx="574.7" cy="91.4" r="0.8" fill="#111"/>
<circle cx="574.7" cy="97.7" r="0.8" fill="#111"/>
<circle cx="579.0" cy="91.8" r="0.8" fill="#111"/>
<circle cx="575.4" cy="103.9" r="0.8" fill="#111"/>
<circle cx="581.4" cy="90.0" r="0.8" fill="#111"/>
<circle cx="578.2" cy="90.2" r="0.8" fill="#111"/>
<circle cx="576.8" cy="107.2" r="0.8" fill="#111"/>
<circle cx="575.3" cy="98.1" r="0.8" fill="#111"/>
<circle cx="578.2" cy="84.5" r="0.8" fill="#111"/>
<circle cx="575.2" cy="99.8" r="0.8" fill="#111"/>
<circle cx="582.1" cy="105.7" r="0.8" fill="#111"/>
<circle cx="579.4" cy="95.0" r="0.8" fill="#111"/>
<circle cx="575.6" cy="107.6" r="0.8" fill="#111"/>
<circle cx="575.5" cy="97.0" r="0.8" fill="#111"/>
<circle cx="576.3" cy="87.3" r="0.8" fill="#111"/>
<circle cx="581.2" cy="91.3" r="0.8" fill="#111"/>
<circle cx="576.1" cy="90.7" r="0.8" fill="#111"/>
<circle cx="576.7" cy="92.2" r="0.8" fill="#111"/>
<circle cx="579.3" cy="83.4" r="0.8" fill="#111"/>
<circle cx="582.7" cy="88.0" r="0.8" fill="#111"/>
<circle cx="578.3" cy="85.8" r="0.8" fill="#111"/>
<circle cx="578.0" cy="96.1" r="0.8" fill="#111"/>
<circle cx="583.1" cy="96.4" r="0.8" fill="#111"/>
<circle cx="580.7" cy="92.1" r="0.8" fill="#111"/>
<circle cx="577.6" cy="99.9" r="0.8" fill="#111"/>
<circle cx="575.1" cy="84.4" r="0.8" fill="#111"/>
<circle cx="575.9" cy="102.6" r="0.8" fill="#111"/>
<circle cx="582.2" cy="85.2" r="0.8" fill="#111"/>
<circle cx="576.6" cy="100.8" r="0.8" fill="#111"/>
<circle cx="575.9" cy="90.8" r="0.8" fill="#111"/>
<circle cx="583.0" cy="94.8" r="0.8" fill="#111"/>
<circle cx="576.7" cy="108.8" r="0.8" fill="#111"/>
<circle cx="577.6" cy="108.6" r="0.8" fill="#111"/>
<circle cx="578.7" cy="83.0" r="0.8" fill="#111"/>
<circle cx="578.9" cy="96.3" r="0.8" fill="#111"/>
<circle cx="575.3" cy="83.1" r="0.8" fill="#111"/>
<circle cx="574.7" cy="93.6" r="0.8" fill="#111"/>
<circle cx="579.7" cy="91.1" r="0.8" fill="#111"/>
<circle cx="580.3" cy="97.0" r="0.8" fill="#111"/>
<circle cx="577.9" cy="102.0" r="0.8" fill="#111"/>
<circle cx="580.2" cy="87.0" r="0.8" fill="#111"/>
<circle cx="581.0" cy="106.6" r="0.8" fill="#111"/>
<circle cx="579.1" cy="104.5" r="0.8" fill="#111"/>
<circle cx="581.6" cy="96.4" r="0.8" fill="#111"/>
<circle cx="582.4" cy="104.9" r="0.8" fill="#111"/>
<circle cx="576.5" cy="101.1" r="0.8" fill="#111"/>
<circle cx="577.7" cy="83.8" r="0.8" fill="#111"/>
<circle cx="579.4" cy="85.8" r="0.8" fill="#111"/>
<circle cx="580.5" cy="99.6" r="0.8" fill="#111"/>
<circle cx="581.5" cy="96.0" r="0.8" fill="#111"/>
<circle cx="579.2" cy="102.8" r="0.8" fill="#111"/>
<circle cx="581.0" cy="100.5" r="0.8" fill="#111"/>
<circle cx="576.8" cy="89.7" r="0.8" fill="#111"/>
<circle cx="581.0" cy="102.3" r="0.8" fill="#111"/>
<circle cx="577.9" cy="108.9" r="0.8" fill="#111"/>
<circle cx="581.2" cy="95.7" r="0.8" fill="#111"/>
<circle cx="575.2" cy="99.3" r="0.8" fill="#111"/>
<circle cx="581.0" cy="86.9" r="0.8" fill="#111"/>
<circle cx="574.6" cy="91.1" r="0.8" fill="#111"/>
<circle cx="580.4" cy="84.6" r="0.8" fill="#111"/>
<circle cx="577.1" cy="101.3" r="0.8" fill="#111"/>
<circle cx="578.6" cy="96.7" r="0.8" fill="#111"/>
<circle cx="578.5" cy="107.8" r="0.8" fill="#111"/>
<circle cx="578.5" cy="104.7" r="0.8" fill="#111"/>
<circle cx="582.8" cy="90.1" r="0.8" fill="#111"/>
<circle cx="575.7" cy="88.6" r="0.8" fill="#111"/>
<circle cx="575.7" cy="96.9" r="0.8" fill="#111"/>
<circle cx="582.3" cy="104.7" r="0.8" fill="#111"/>
<circle cx="582.4" cy="101.6" r="0.8" fill="#111"/>
<circle cx="574.5" cy="95.9" r="0.8" fill="#111"/>
<circle cx="577.2" cy="96.0" r="0.8" fill="#111"/>
<circle cx="577.3" cy="112.4" r="0.8" fill="#111"/>
<circle cx="581.1" cy="126.7" r="0.8" fill="#111"/>
<circle cx="582.7" cy="126.7" r="0.8" fill="#111"/>
<circle cx="578.0" cy="115.4" r="0.8" fill="#111"/>
<circle cx="576.9" cy="116.9" r="0.8" fill="#111"/>
<circle cx="581.8" cy="110.5" r="0.8" fill="#111"/>
<circle cx="579.0" cy="114.6" r="0.8" fill="#111"/>
<circle cx="582.9" cy="113.4" r="0.8" fill="#111"/>
<circle cx="580.9" cy="124.3" r="0.8" fill="#111"/>
<circle cx="580.2" cy="118.7" r="0.8" fill="#111"/>
<circle cx="582.7" cy="115.4" r="0.8" fill="#111"/>
<circle cx="577.5" cy="112.1" r="0.8" fill="#111"/>
<circle cx="583.1" cy="115.6" r="0.8" fill="#111"/>
<circle cx="577.1" cy="114.8" r="0.8" fill="#111"/>
<circle cx="576.0" cy="120.9" r="0.8" fill="#111"/>
<circle cx="582.5" cy="112.8" r="0.8" fill="#111"/>
<circle cx="582.5" cy="119.7" r="0.8" fill="#111"/>
<circle cx="575.3" cy="112.4" r="0.8" fill="#111"/>
<circle cx="576.6" cy="116.5" r="0.8" fill="#111"/>
<circle cx="582.3" cy="114.8" r="0.8" fill="#111"/>
<circle cx="578.1" cy="124.9" r="0.8" fill="#111"/>
<circle cx="577.5" cy="120.2" r="0.8" fill="#111"/>
<circle cx="583.0" cy="110.8" r="0.8" fill="#111"/>
<circle cx="580.0" cy="112.1" r="0.8" fill="#111"/>
<circle cx="576.9" cy="127.2" r="0.8" fill="#111"/>
<circle cx="578.4" cy="114.6" r="0.8" fill="#111"/>
<circle cx="574.8" cy="127.4" r="0.8" fill="#111"/>
<circle cx="574.5" cy="119.2" r="0.8" fill="#111"/>
<circle cx="576.0" cy="129.4" r="0.8" fill="#111"/>
<circle cx="580.5" cy="112.7" r="0.8" fill="#111"/>
<circle cx="574.8" cy="118.9" r="0.8" fill="#111"/>
<circle cx="582.6" cy="125.5" r="0.8" fill="#111"/>
<circle cx="575.6" cy="122.7" r="0.8" fill="#111"/>
<circle cx="580.6" cy="114.7" r="0.8" fill="#111"/>
<circle cx="579.1" cy="111.8" r="0.8" fill="#111"/>
<circle cx="576.5" cy="121.4" r="0.8" fill="#111"/>
<circle cx="577.2" cy="121.8" r="0.8" fill="#111"/>
<circle cx="576.7" cy="119.2" r="0.8" fill="#111"/>
<circle cx="578.9" cy="115.8" r="0.8" fill="#111"/>
<circle cx="576.8" cy="123.3" r="0.8" fill="#111"/>
<circle cx="577.5" cy="114.1" r="0.8" fill="#111"/>
<circle cx="576.2" cy="118.1" r="0.8" fill="#111"/>
<circle cx="583.0" cy="119.9" r="0.8" fill="#111"/>
<circle cx="576.5" cy="115.9" r="0.8" fill="#111"/>
<circle cx="577.1" cy="114.0" r="0.8" fill="#111"/>
<circle cx="578.2" cy="113.3" r="0.8" fill="#111"/>
<circle cx="576.4" cy="112.5" r="0.8" fill="#111"/>
<circle cx="575.6" cy="129.5" r="0.8" fill="#111"/>
<circle cx="582.4" cy="110.7" r="0.8" fill="#111"/>
<circle cx="582.7" cy="116.2" r="0.8" fill="#111"/>
<path d="M618.00,35.80 C618.07,37.90 618.13,45.53 618.40,48.40 C618.67,51.27 619.00,51.22 619.60,53.00 C620.20,54.78 620.95,56.47 622.00,59.10 C623.05,61.73 624.57,65.57 625.90,68.80 C627.23,72.03 628.67,75.25 630.00,78.50 C631.33,81.75 633.10,85.88 633.90,88.30 C634.70,90.72 634.58,91.38 634.80,93.00 C635.02,94.62 635.30,96.33 635.20,98.00 C635.10,99.67 634.80,101.50 634.20,103.00 C633.60,104.50 632.47,105.43 631.60,107.00 C630.73,108.57 629.83,110.10 629.00,112.40 C628.17,114.70 627.72,118.00 626.60,120.80 C625.48,123.60 623.55,126.75 622.30,129.20 C621.05,131.65 619.77,133.70 619.10,135.50 C618.43,137.30 618.48,138.25 618.30,140.00 C618.12,141.75 618.05,145.00 618.00,146.00 L617.20,146.00 C617.15,145.00 617.08,141.75 616.90,140.00 C616.72,138.25 616.77,137.30 616.10,135.50 C615.43,133.70 614.15,131.65 612.90,129.20 C611.65,126.75 609.72,123.60 608.60,120.80 C607.48,118.00 607.03,114.70 606.20,112.40 C605.37,110.10 604.47,108.57 603.60,107.00 C602.73,105.43 601.60,104.50 601.00,103.00 C600.40,101.50 600.10,99.67 600.00,98.00 C599.90,96.33 600.18,94.62 600.40,93.00 C600.62,91.38 600.50,90.72 601.30,88.30 C602.10,85.88 603.87,81.75 605.20,78.50 C606.53,75.25 607.97,72.03 609.30,68.80 C610.63,65.57 612.15,61.73 613.20,59.10 C614.25,56.47 615.00,54.78 615.60,53.00 C616.20,51.22 616.53,51.27 616.80,48.40 C617.07,45.53 617.13,37.90 617.20,35.80Z" fill="#e4ad2c" stroke="#111" stroke-width="0.9" stroke-linejoin="round"/>
<rect x="610" y="82.8" width="14.600000000000023" height="27.5" fill="#fff" stroke="#111" stroke-width="0.9"/>
<line x1="610" y1="96.6" x2="624.6" y2="96.6" stroke="#111" stroke-width="0.9"/>
<circle cx="619.0" cy="75.0" r="0.8" fill="#111"/>
<circle cx="616.1" cy="63.7" r="0.8" fill="#111"/>
<circle cx="616.5" cy="57.2" r="0.8" fill="#111"/>
<circle cx="617.0" cy="77.3" r="0.8" fill="#111"/>
<circle cx="616.8" cy="79.6" r="0.8" fill="#111"/>
<circle cx="613.6" cy="77.0" r="0.8" fill="#111"/>
<circle cx="618.3" cy="53.1" r="0.8" fill="#111"/>
<circle cx="615.6" cy="79.7" r="0.8" fill="#111"/>
<circle cx="615.5" cy="81.5" r="0.8" fill="#111"/>
<circle cx="615.6" cy="74.1" r="0.8" fill="#111"/>
<circle cx="621.5" cy="80.2" r="0.8" fill="#111"/>
<circle cx="615.4" cy="81.4" r="0.8" fill="#111"/>
<circle cx="620.3" cy="80.6" r="0.8" fill="#111"/>
<circle cx="616.1" cy="75.8" r="0.8" fill="#111"/>
<circle cx="620.0" cy="61.8" r="0.8" fill="#111"/>
<circle cx="613.8" cy="75.2" r="0.8" fill="#111"/>
<circle cx="614.7" cy="60.2" r="0.8" fill="#111"/>
<circle cx="616.9" cy="65.8" r="0.8" fill="#111"/>
<circle cx="620.6" cy="72.5" r="0.8" fill="#111"/>
<circle cx="616.2" cy="58.1" r="0.8" fill="#111"/>
<circle cx="616.7" cy="69.8" r="0.8" fill="#111"/>
<circle cx="615.2" cy="82.6" r="0.8" fill="#111"/>
<circle cx="621.9" cy="76.9" r="0.8" fill="#111"/>
<circle cx="621.2" cy="77.2" r="0.8" fill="#111"/>
<circle cx="619.4" cy="55.7" r="0.8" fill="#111"/>
<circle cx="620.0" cy="65.8" r="0.8" fill="#111"/>
<circle cx="618.4" cy="81.1" r="0.8" fill="#111"/>
<circle cx="616.4" cy="71.1" r="0.8" fill="#111"/>
<circle cx="616.6" cy="56.4" r="0.8" fill="#111"/>
<circle cx="616.6" cy="58.3" r="0.8" fill="#111"/>
<circle cx="615.9" cy="72.9" r="0.8" fill="#111"/>
<circle cx="614.1" cy="68.9" r="0.8" fill="#111"/>
<circle cx="614.6" cy="71.7" r="0.8" fill="#111"/>
<circle cx="615.7" cy="73.4" r="0.8" fill="#111"/>
<circle cx="620.8" cy="63.0" r="0.8" fill="#111"/>
<circle cx="614.9" cy="82.7" r="0.8" fill="#111"/>
<circle cx="613.3" cy="74.4" r="0.8" fill="#111"/>
<circle cx="620.4" cy="79.8" r="0.8" fill="#111"/>
<circle cx="613.3" cy="66.2" r="0.8" fill="#111"/>
<circle cx="618.7" cy="80.0" r="0.8" fill="#111"/>
<circle cx="620.1" cy="58.1" r="0.8" fill="#111"/>
<circle cx="613.7" cy="82.0" r="0.8" fill="#111"/>
<circle cx="621.2" cy="80.5" r="0.8" fill="#111"/>
<circle cx="614.8" cy="78.1" r="0.8" fill="#111"/>
<circle cx="614.3" cy="68.0" r="0.8" fill="#111"/>
<circle cx="618.1" cy="79.6" r="0.8" fill="#111"/>
<circle cx="620.6" cy="75.3" r="0.8" fill="#111"/>
<circle cx="619.0" cy="69.9" r="0.8" fill="#111"/>
<circle cx="613.4" cy="65.8" r="0.8" fill="#111"/>
<circle cx="615.3" cy="71.1" r="0.8" fill="#111"/>
<circle cx="617.2" cy="103.8" r="0.8" fill="#111"/>
<circle cx="614.1" cy="87.7" r="0.8" fill="#111"/>
<circle cx="614.0" cy="86.3" r="0.8" fill="#111"/>
<circle cx="613.6" cy="95.0" r="0.8" fill="#111"/>
<circle cx="619.7" cy="100.3" r="0.8" fill="#111"/>
<circle cx="613.7" cy="104.2" r="0.8" fill="#111"/>
<circle cx="621.6" cy="96.7" r="0.8" fill="#111"/>
<circle cx="622.0" cy="86.5" r="0.8" fill="#111"/>
<circle cx="614.9" cy="102.9" r="0.8" fill="#111"/>
<circle cx="621.6" cy="109.8" r="0.8" fill="#111"/>
<circle cx="620.1" cy="108.0" r="0.8" fill="#111"/>
<circle cx="616.3" cy="108.4" r="0.8" fill="#111"/>
<circle cx="621.1" cy="103.6" r="0.8" fill="#111"/>
<circle cx="614.5" cy="90.4" r="0.8" fill="#111"/>
<circle cx="615.0" cy="96.6" r="0.8" fill="#111"/>
<circle cx="616.0" cy="90.0" r="0.8" fill="#111"/>
<circle cx="614.6" cy="83.8" r="0.8" fill="#111"/>
<circle cx="621.1" cy="108.6" r="0.8" fill="#111"/>
<circle cx="614.2" cy="87.4" r="0.8" fill="#111"/>
<circle cx="616.4" cy="97.4" r="0.8" fill="#111"/>
<circle cx="618.3" cy="106.8" r="0.8" fill="#111"/>
<circle cx="621.9" cy="107.1" r="0.8" fill="#111"/>
<circle cx="620.2" cy="100.1" r="0.8" fill="#111"/>
<circle cx="619.9" cy="98.7" r="0.8" fill="#111"/>
<circle cx="619.7" cy="95.0" r="0.8" fill="#111"/>
<circle cx="615.4" cy="84.1" r="0.8" fill="#111"/>
<circle cx="616.0" cy="98.9" r="0.8" fill="#111"/>
<circle cx="614.5" cy="82.8" r="0.8" fill="#111"/>
<circle cx="617.7" cy="99.7" r="0.8" fill="#111"/>
<circle cx="615.2" cy="107.4" r="0.8" fill="#111"/>
<circle cx="613.2" cy="100.8" r="0.8" fill="#111"/>
<circle cx="616.3" cy="92.6" r="0.8" fill="#111"/>
<circle cx="618.4" cy="89.0" r="0.8" fill="#111"/>
<circle cx="617.4" cy="88.4" r="0.8" fill="#111"/>
<circle cx="614.0" cy="89.5" r="0.8" fill="#111"/>
<circle cx="620.1" cy="100.4" r="0.8" fill="#111"/>
<circle cx="613.3" cy="93.9" r="0.8" fill="#111"/>
<circle cx="616.3" cy="100.5" r="0.8" fill="#111"/>
<circle cx="621.4" cy="100.6" r="0.8" fill="#111"/>
<circle cx="621.2" cy="103.0" r="0.8" fill="#111"/>
<circle cx="616.8" cy="84.0" r="0.8" fill="#111"/>
<circle cx="620.1" cy="89.3" r="0.8" fill="#111"/>
<circle cx="621.5" cy="83.1" r="0.8" fill="#111"/>
<circle cx="618.6" cy="86.7" r="0.8" fill="#111"/>
<circle cx="620.4" cy="96.7" r="0.8" fill="#111"/>
<circle cx="615.8" cy="87.6" r="0.8" fill="#111"/>
<circle cx="613.3" cy="104.3" r="0.8" fill="#111"/>
<circle cx="617.3" cy="106.0" r="0.8" fill="#111"/>
<circle cx="615.2" cy="103.2" r="0.8" fill="#111"/>
<circle cx="613.5" cy="85.7" r="0.8" fill="#111"/>
<circle cx="619.3" cy="92.0" r="0.8" fill="#111"/>
<circle cx="615.5" cy="106.0" r="0.8" fill="#111"/>
<circle cx="620.1" cy="98.0" r="0.8" fill="#111"/>
<circle cx="618.8" cy="97.2" r="0.8" fill="#111"/>
<circle cx="620.9" cy="109.3" r="0.8" fill="#111"/>
<circle cx="615.3" cy="83.2" r="0.8" fill="#111"/>
<circle cx="620.9" cy="103.3" r="0.8" fill="#111"/>
<circle cx="621.2" cy="91.8" r="0.8" fill="#111"/>
<circle cx="619.1" cy="100.1" r="0.8" fill="#111"/>
<circle cx="620.6" cy="109.7" r="0.8" fill="#111"/>
<circle cx="617.0" cy="102.0" r="0.8" fill="#111"/>
<circle cx="615.9" cy="102.7" r="0.8" fill="#111"/>
<circle cx="613.9" cy="88.6" r="0.8" fill="#111"/>
<circle cx="613.4" cy="107.8" r="0.8" fill="#111"/>
<circle cx="613.5" cy="92.3" r="0.8" fill="#111"/>
<circle cx="618.8" cy="83.9" r="0.8" fill="#111"/>
<circle cx="613.8" cy="102.0" r="0.8" fill="#111"/>
<circle cx="620.4" cy="99.0" r="0.8" fill="#111"/>
<circle cx="614.2" cy="85.7" r="0.8" fill="#111"/>
<circle cx="620.5" cy="105.1" r="0.8" fill="#111"/>
<circle cx="614.1" cy="100.2" r="0.8" fill="#111"/>
<circle cx="615.0" cy="85.5" r="0.8" fill="#111"/>
<circle cx="613.4" cy="91.6" r="0.8" fill="#111"/>
<circle cx="619.5" cy="89.9" r="0.8" fill="#111"/>
<circle cx="621.7" cy="92.9" r="0.8" fill="#111"/>
<circle cx="618.6" cy="96.7" r="0.8" fill="#111"/>
<circle cx="617.0" cy="83.7" r="0.8" fill="#111"/>
<circle cx="619.4" cy="104.1" r="0.8" fill="#111"/>
<circle cx="620.8" cy="97.6" r="0.8" fill="#111"/>
<circle cx="614.7" cy="85.3" r="0.8" fill="#111"/>
<circle cx="619.9" cy="82.8" r="0.8" fill="#111"/>
<circle cx="617.5" cy="109.7" r="0.8" fill="#111"/>
<circle cx="614.8" cy="96.3" r="0.8" fill="#111"/>
<circle cx="620.5" cy="96.4" r="0.8" fill="#111"/>
<circle cx="615.7" cy="90.0" r="0.8" fill="#111"/>
<circle cx="617.6" cy="88.7" r="0.8" fill="#111"/>
<circle cx="613.9" cy="85.8" r="0.8" fill="#111"/>
<circle cx="620.1" cy="104.5" r="0.8" fill="#111"/>
<circle cx="616.7" cy="100.1" r="0.8" fill="#111"/>
<circle cx="614.0" cy="93.7" r="0.8" fill="#111"/>
<circle cx="615.0" cy="107.2" r="0.8" fill="#111"/>
<circle cx="617.6" cy="90.0" r="0.8" fill="#111"/>
<circle cx="615.3" cy="93.2" r="0.8" fill="#111"/>
<circle cx="619.8" cy="95.5" r="0.8" fill="#111"/>
<circle cx="616.3" cy="103.5" r="0.8" fill="#111"/>
<circle cx="620.6" cy="91.8" r="0.8" fill="#111"/>
<circle cx="614.7" cy="101.0" r="0.8" fill="#111"/>
<circle cx="618.3" cy="94.9" r="0.8" fill="#111"/>
<circle cx="621.0" cy="86.3" r="0.8" fill="#111"/>
<circle cx="615.9" cy="89.3" r="0.8" fill="#111"/>
<circle cx="615.4" cy="114.0" r="0.8" fill="#111"/>
<circle cx="614.6" cy="118.0" r="0.8" fill="#111"/>
<circle cx="621.8" cy="118.1" r="0.8" fill="#111"/>
<circle cx="621.6" cy="127.6" r="0.8" fill="#111"/>
<circle cx="621.9" cy="112.7" r="0.8" fill="#111"/>
<circle cx="618.8" cy="120.6" r="0.8" fill="#111"/>
<circle cx="616.6" cy="112.8" r="0.8" fill="#111"/>
<circle cx="620.2" cy="111.1" r="0.8" fill="#111"/>
<circle cx="614.4" cy="125.3" r="0.8" fill="#111"/>
<circle cx="619.7" cy="124.6" r="0.8" fill="#111"/>
<circle cx="619.6" cy="120.3" r="0.8" fill="#111"/>
<circle cx="618.7" cy="121.1" r="0.8" fill="#111"/>
<circle cx="620.1" cy="112.6" r="0.8" fill="#111"/>
<circle cx="617.2" cy="116.2" r="0.8" fill="#111"/>
<circle cx="619.1" cy="125.0" r="0.8" fill="#111"/>
<circle cx="618.2" cy="132.3" r="0.8" fill="#111"/>
<circle cx="617.5" cy="128.7" r="0.8" fill="#111"/>
<circle cx="617.7" cy="133.4" r="0.8" fill="#111"/>
<circle cx="621.5" cy="114.1" r="0.8" fill="#111"/>
<circle cx="618.3" cy="122.6" r="0.8" fill="#111"/>
<circle cx="620.5" cy="122.4" r="0.8" fill="#111"/>
<circle cx="621.5" cy="122.7" r="0.8" fill="#111"/>
<circle cx="616.7" cy="115.3" r="0.8" fill="#111"/>
<circle cx="621.4" cy="128.4" r="0.8" fill="#111"/>
<circle cx="615.6" cy="118.7" r="0.8" fill="#111"/>
<circle cx="616.9" cy="119.8" r="0.8" fill="#111"/>
<circle cx="616.3" cy="120.3" r="0.8" fill="#111"/>
<circle cx="619.7" cy="116.6" r="0.8" fill="#111"/>
<circle cx="616.6" cy="115.5" r="0.8" fill="#111"/>
<circle cx="620.0" cy="115.3" r="0.8" fill="#111"/>
<circle cx="615.2" cy="121.4" r="0.8" fill="#111"/>
<circle cx="614.3" cy="117.3" r="0.8" fill="#111"/>
<circle cx="616.9" cy="130.5" r="0.8" fill="#111"/>
<circle cx="614.8" cy="116.3" r="0.8" fill="#111"/>
<circle cx="615.7" cy="110.4" r="0.8" fill="#111"/>
<circle cx="617.4" cy="116.1" r="0.8" fill="#111"/>
<circle cx="619.0" cy="120.5" r="0.8" fill="#111"/>
<circle cx="619.4" cy="130.6" r="0.8" fill="#111"/>
<circle cx="618.8" cy="113.6" r="0.8" fill="#111"/>
<circle cx="621.6" cy="110.7" r="0.8" fill="#111"/>
<circle cx="614.1" cy="125.8" r="0.8" fill="#111"/>
<circle cx="620.0" cy="113.7" r="0.8" fill="#111"/>
<circle cx="621.2" cy="118.5" r="0.8" fill="#111"/>
<circle cx="620.4" cy="129.1" r="0.8" fill="#111"/>
<circle cx="617.9" cy="115.0" r="0.8" fill="#111"/>
<circle cx="614.4" cy="116.6" r="0.8" fill="#111"/>
<circle cx="617.3" cy="122.0" r="0.8" fill="#111"/>
<circle cx="617.6" cy="113.7" r="0.8" fill="#111"/>
<circle cx="617.3" cy="110.5" r="0.8" fill="#111"/>
<circle cx="618.8" cy="112.1" r="0.8" fill="#111"/>
<path d="M656.60,35.40 C656.67,37.08 656.65,42.90 657.00,45.50 C657.35,48.10 657.95,48.73 658.70,51.00 C659.45,53.27 660.38,56.13 661.50,59.10 C662.62,62.07 664.18,65.57 665.40,68.80 C666.62,72.03 667.70,75.25 668.80,78.50 C669.90,81.75 671.38,85.55 672.00,88.30 C672.62,91.05 672.50,92.75 672.50,95.00 C672.50,97.25 672.30,99.80 672.00,101.80 C671.70,103.80 671.23,105.23 670.70,107.00 C670.17,108.77 669.75,110.10 668.80,112.40 C667.85,114.70 666.47,118.00 665.00,120.80 C663.53,123.60 661.22,126.92 660.00,129.20 C658.78,131.48 658.22,132.87 657.70,134.50 C657.18,136.13 657.08,137.08 656.90,139.00 C656.72,140.92 656.65,144.83 656.60,146.00 L655.80,146.00 C655.75,144.83 655.68,140.92 655.50,139.00 C655.32,137.08 655.22,136.13 654.70,134.50 C654.18,132.87 653.62,131.48 652.40,129.20 C651.18,126.92 648.87,123.60 647.40,120.80 C645.93,118.00 644.55,114.70 643.60,112.40 C642.65,110.10 642.23,108.77 641.70,107.00 C641.17,105.23 640.70,103.80 640.40,101.80 C640.10,99.80 639.90,97.25 639.90,95.00 C639.90,92.75 639.78,91.05 640.40,88.30 C641.02,85.55 642.50,81.75 643.60,78.50 C644.70,75.25 645.78,72.03 647.00,68.80 C648.22,65.57 649.78,62.07 650.90,59.10 C652.02,56.13 652.95,53.27 653.70,51.00 C654.45,48.73 655.05,48.10 655.40,45.50 C655.75,42.90 655.73,37.08 655.80,35.40Z" fill="#3c9a23" stroke="#111" stroke-width="0.9" stroke-linejoin="round"/>
<rect x="649" y="82" width="13.799999999999955" height="25.700000000000003" fill="#fff" stroke="#111" stroke-width="0.9"/>
<line x1="649" y1="96.6" x2="662.8" y2="96.6" stroke="#111" stroke-width="0.9"/>
<circle cx="659.7" cy="66.3" r="0.8" fill="#111"/>
<circle cx="659.4" cy="70.0" r="0.8" fill="#111"/>
<circle cx="659.1" cy="76.5" r="0.8" fill="#111"/>
<circle cx="658.8" cy="81.2" r="0.8" fill="#111"/>
<circle cx="654.4" cy="60.6" r="0.8" fill="#111"/>
<circle cx="658.7" cy="68.8" r="0.8" fill="#111"/>
<circle cx="652.2" cy="78.3" r="0.8" fill="#111"/>
<circle cx="653.5" cy="59.6" r="0.8" fill="#111"/>
<circle cx="657.6" cy="79.5" r="0.8" fill="#111"/>
<circle cx="657.3" cy="69.6" r="0.8" fill="#111"/>
<circle cx="657.8" cy="72.3" r="0.8" fill="#111"/>
<circle cx="654.3" cy="53.2" r="0.8" fill="#111"/>
<circle cx="659.0" cy="71.0" r="0.8" fill="#111"/>
<circle cx="654.1" cy="75.2" r="0.8" fill="#111"/>
<circle cx="657.1" cy="51.3" r="0.8" fill="#111"/>
<circle cx="655.2" cy="64.3" r="0.8" fill="#111"/>
<circle cx="655.4" cy="81.4" r="0.8" fill="#111"/>
<circle cx="653.0" cy="56.8" r="0.8" fill="#111"/>
<circle cx="657.2" cy="54.1" r="0.8" fill="#111"/>
<circle cx="657.9" cy="56.0" r="0.8" fill="#111"/>
<circle cx="657.3" cy="73.4" r="0.8" fill="#111"/>
<circle cx="660.0" cy="72.7" r="0.8" fill="#111"/>
<circle cx="651.9" cy="73.0" r="0.8" fill="#111"/>
<circle cx="659.4" cy="73.3" r="0.8" fill="#111"/>
<circle cx="655.0" cy="65.6" r="0.8" fill="#111"/>
<circle cx="657.8" cy="68.4" r="0.8" fill="#111"/>
<circle cx="655.2" cy="70.2" r="0.8" fill="#111"/>
<circle cx="654.4" cy="75.1" r="0.8" fill="#111"/>
<circle cx="657.1" cy="81.3" r="0.8" fill="#111"/>
<circle cx="657.8" cy="78.4" r="0.8" fill="#111"/>
<circle cx="651.8" cy="75.8" r="0.8" fill="#111"/>
<circle cx="659.1" cy="78.4" r="0.8" fill="#111"/>
<circle cx="659.3" cy="68.3" r="0.8" fill="#111"/>
<circle cx="659.8" cy="75.8" r="0.8" fill="#111"/>
<circle cx="656.7" cy="61.1" r="0.8" fill="#111"/>
<circle cx="658.4" cy="75.5" r="0.8" fill="#111"/>
<circle cx="657.1" cy="79.8" r="0.8" fill="#111"/>
<circle cx="653.6" cy="71.7" r="0.8" fill="#111"/>
<circle cx="652.6" cy="75.3" r="0.8" fill="#111"/>
<circle cx="653.8" cy="75.8" r="0.8" fill="#111"/>
<circle cx="656.0" cy="78.3" r="0.8" fill="#111"/>
<circle cx="653.5" cy="68.9" r="0.8" fill="#111"/>
<circle cx="658.8" cy="54.8" r="0.8" fill="#111"/>
<circle cx="657.4" cy="62.0" r="0.8" fill="#111"/>
<circle cx="657.1" cy="75.2" r="0.8" fill="#111"/>
<circle cx="657.4" cy="50.7" r="0.8" fill="#111"/>
<circle cx="656.8" cy="77.7" r="0.8" fill="#111"/>
<circle cx="652.1" cy="80.8" r="0.8" fill="#111"/>
<circle cx="653.6" cy="56.4" r="0.8" fill="#111"/>
<circle cx="660.1" cy="77.9" r="0.8" fill="#111"/>
<circle cx="657.1" cy="105.4" r="0.8" fill="#111"/>
<circle cx="660.2" cy="92.2" r="0.8" fill="#111"/>
<circle cx="657.4" cy="88.6" r="0.8" fill="#111"/>
<circle cx="655.3" cy="106.6" r="0.8" fill="#111"/>
<circle cx="660.3" cy="93.5" r="0.8" fill="#111"/>
<circle cx="652.1" cy="107.5" r="0.8" fill="#111"/>
<circle cx="659.7" cy="88.6" r="0.8" fill="#111"/>
<circle cx="652.2" cy="105.2" r="0.8" fill="#111"/>
<circle cx="657.5" cy="102.2" r="0.8" fill="#111"/>
<circle cx="653.1" cy="107.3" r="0.8" fill="#111"/>
<circle cx="657.8" cy="101.4" r="0.8" fill="#111"/>
<circle cx="658.5" cy="89.7" r="0.8" fill="#111"/>
<circle cx="654.1" cy="84.7" r="0.8" fill="#111"/>
<circle cx="653.3" cy="85.2" r="0.8" fill="#111"/>
<circle cx="657.8" cy="88.1" r="0.8" fill="#111"/>
<circle cx="653.5" cy="82.3" r="0.8" fill="#111"/>
<circle cx="659.4" cy="87.7" r="0.8" fill="#111"/>
<circle cx="655.7" cy="104.8" r="0.8" fill="#111"/>
<circle cx="655.8" cy="103.6" r="0.8" fill="#111"/>
<circle cx="656.0" cy="90.7" r="0.8" fill="#111"/>
<circle cx="653.8" cy="98.1" r="0.8" fill="#111"/>
<circle cx="656.7" cy="83.5" r="0.8" fill="#111"/>
<circle cx="654.1" cy="85.7" r="0.8" fill="#111"/>
<circle cx="654.2" cy="92.6" r="0.8" fill="#111"/>
<circle cx="653.3" cy="103.6" r="0.8" fill="#111"/>
<circle cx="659.7" cy="94.6" r="0.8" fill="#111"/>
<circle cx="656.0" cy="99.2" r="0.8" fill="#111"/>
<circle cx="653.6" cy="89.4" r="0.8" fill="#111"/>
<circle cx="659.7" cy="84.5" r="0.8" fill="#111"/>
<circle cx="654.4" cy="83.5" r="0.8" fill="#111"/>
<circle cx="658.9" cy="107.2" r="0.8" fill="#111"/>
<circle cx="651.8" cy="90.8" r="0.8" fill="#111"/>
<circle cx="653.4" cy="103.4" r="0.8" fill="#111"/>
<circle cx="653.7" cy="93.2" r="0.8" fill="#111"/>
<circle cx="653.4" cy="96.7" r="0.8" fill="#111"/>
<circle cx="653.5" cy="101.8" r="0.8" fill="#111"/>
<circle cx="657.2" cy="84.0" r="0.8" fill="#111"/>
<circle cx="653.6" cy="94.7" r="0.8" fill="#111"/>
<circle cx="658.9" cy="97.7" r="0.8" fill="#111"/>
<circle cx="652.4" cy="97.0" r="0.8" fill="#111"/>
<circle cx="658.2" cy="100.8" r="0.8" fill="#111"/>
<circle cx="654.7" cy="83.4" r="0.8" fill="#111"/>
<circle cx="656.1" cy="103.6" r="0.8" fill="#111"/>
<circle cx="654.1" cy="94.2" r="0.8" fill="#111"/>
<circle cx="655.0" cy="86.8" r="0.8" fill="#111"/>
<circle cx="657.0" cy="86.2" r="0.8" fill="#111"/>
<circle cx="655.7" cy="82.1" r="0.8" fill="#111"/>
<circle cx="658.1" cy="95.3" r="0.8" fill="#111"/>
<circle cx="654.6" cy="103.0" r="0.8" fill="#111"/>
<circle cx="658.4" cy="100.3" r="0.8" fill="#111"/>
<circle cx="660.2" cy="83.6" r="0.8" fill="#111"/>
<circle cx="656.5" cy="94.7" r="0.8" fill="#111"/>
<circle cx="660.3" cy="95.8" r="0.8" fill="#111"/>
<circle cx="652.7" cy="87.7" r="0.8" fill="#111"/>
<circle cx="652.1" cy="88.4" r="0.8" fill="#111"/>
<circle cx="653.5" cy="84.5" r="0.8" fill="#111"/>
<circle cx="656.9" cy="82.5" r="0.8" fill="#111"/>
<circle cx="652.7" cy="95.4" r="0.8" fill="#111"/>
<circle cx="652.2" cy="104.3" r="0.8" fill="#111"/>
<circle cx="656.2" cy="85.2" r="0.8" fill="#111"/>
<circle cx="655.4" cy="89.2" r="0.8" fill="#111"/>
<circle cx="659.4" cy="85.5" r="0.8" fill="#111"/>
<circle cx="658.4" cy="85.8" r="0.8" fill="#111"/>
<circle cx="660.1" cy="86.2" r="0.8" fill="#111"/>
<circle cx="659.2" cy="92.0" r="0.8" fill="#111"/>
<circle cx="660.1" cy="95.5" r="0.8" fill="#111"/>
<circle cx="653.9" cy="102.0" r="0.8" fill="#111"/>
<circle cx="660.4" cy="90.6" r="0.8" fill="#111"/>
<circle cx="659.0" cy="102.7" r="0.8" fill="#111"/>
<circle cx="656.4" cy="103.8" r="0.8" fill="#111"/>
<circle cx="657.4" cy="88.4" r="0.8" fill="#111"/>
<circle cx="652.4" cy="91.4" r="0.8" fill="#111"/>
<circle cx="652.0" cy="93.1" r="0.8" fill="#111"/>
<circle cx="657.4" cy="102.0" r="0.8" fill="#111"/>
<circle cx="659.6" cy="102.8" r="0.8" fill="#111"/>
<circle cx="654.1" cy="82.9" r="0.8" fill="#111"/>
<circle cx="656.6" cy="99.4" r="0.8" fill="#111"/>
<circle cx="654.0" cy="105.8" r="0.8" fill="#111"/>
<circle cx="660.2" cy="95.4" r="0.8" fill="#111"/>
<circle cx="657.5" cy="89.4" r="0.8" fill="#111"/>
<circle cx="660.2" cy="85.1" r="0.8" fill="#111"/>
<circle cx="655.9" cy="95.2" r="0.8" fill="#111"/>
<circle cx="652.9" cy="95.7" r="0.8" fill="#111"/>
<circle cx="655.4" cy="85.4" r="0.8" fill="#111"/>
<circle cx="652.6" cy="89.4" r="0.8" fill="#111"/>
<circle cx="657.2" cy="96.0" r="0.8" fill="#111"/>
<circle cx="653.6" cy="96.7" r="0.8" fill="#111"/>
<circle cx="656.6" cy="100.3" r="0.8" fill="#111"/>
<circle cx="654.5" cy="97.7" r="0.8" fill="#111"/>
<circle cx="656.3" cy="88.2" r="0.8" fill="#111"/>
<circle cx="651.9" cy="91.8" r="0.8" fill="#111"/>
<circle cx="653.9" cy="91.1" r="0.8" fill="#111"/>
<circle cx="654.3" cy="96.3" r="0.8" fill="#111"/>
<circle cx="658.6" cy="107.4" r="0.8" fill="#111"/>
<circle cx="659.5" cy="86.1" r="0.8" fill="#111"/>
<circle cx="655.2" cy="93.3" r="0.8" fill="#111"/>
<circle cx="652.8" cy="93.3" r="0.8" fill="#111"/>
<circle cx="658.3" cy="87.8" r="0.8" fill="#111"/>
<circle cx="654.9" cy="86.0" r="0.8" fill="#111"/>
<circle cx="659.3" cy="99.4" r="0.8" fill="#111"/>
<circle cx="657.9" cy="129.9" r="0.8" fill="#111"/>
<circle cx="657.0" cy="107.8" r="0.8" fill="#111"/>
<circle cx="658.7" cy="121.6" r="0.8" fill="#111"/>
<circle cx="655.8" cy="116.9" r="0.8" fill="#111"/>
<circle cx="655.2" cy="125.3" r="0.8" fill="#111"/>
<circle cx="654.6" cy="121.2" r="0.8" fill="#111"/>
<circle cx="653.4" cy="119.8" r="0.8" fill="#111"/>
<circle cx="656.9" cy="115.1" r="0.8" fill="#111"/>
<circle cx="659.9" cy="121.8" r="0.8" fill="#111"/>
<circle cx="659.8" cy="112.7" r="0.8" fill="#111"/>
<circle cx="656.8" cy="108.0" r="0.8" fill="#111"/>
<circle cx="657.0" cy="117.2" r="0.8" fill="#111"/>
<circle cx="655.3" cy="110.1" r="0.8" fill="#111"/>
<circle cx="659.5" cy="121.3" r="0.8" fill="#111"/>
<circle cx="660.6" cy="118.4" r="0.8" fill="#111"/>
<circle cx="659.0" cy="116.0" r="0.8" fill="#111"/>
<circle cx="660.4" cy="111.8" r="0.8" fill="#111"/>
<circle cx="657.9" cy="110.4" r="0.8" fill="#111"/>
<circle cx="656.3" cy="111.5" r="0.8" fill="#111"/>
<circle cx="653.4" cy="120.0" r="0.8" fill="#111"/>
<circle cx="655.4" cy="123.2" r="0.8" fill="#111"/>
<circle cx="657.7" cy="126.8" r="0.8" fill="#111"/>
<circle cx="659.2" cy="107.8" r="0.8" fill="#111"/>
<circle cx="656.7" cy="112.5" r="0.8" fill="#111"/>
<circle cx="656.5" cy="114.2" r="0.8" fill="#111"/>
<circle cx="653.2" cy="117.7" r="0.8" fill="#111"/>
<circle cx="652.7" cy="126.2" r="0.8" fill="#111"/>
<circle cx="659.0" cy="111.8" r="0.8" fill="#111"/>
<circle cx="658.6" cy="109.2" r="0.8" fill="#111"/>
<circle cx="654.9" cy="115.5" r="0.8" fill="#111"/>
<circle cx="652.7" cy="111.8" r="0.8" fill="#111"/>
<circle cx="655.2" cy="116.2" r="0.8" fill="#111"/>
<circle cx="656.9" cy="109.0" r="0.8" fill="#111"/>
<circle cx="652.2" cy="122.8" r="0.8" fill="#111"/>
<circle cx="656.9" cy="127.5" r="0.8" fill="#111"/>
<circle cx="653.7" cy="117.2" r="0.8" fill="#111"/>
<circle cx="655.0" cy="113.6" r="0.8" fill="#111"/>
<circle cx="652.8" cy="114.8" r="0.8" fill="#111"/>
<circle cx="655.3" cy="120.7" r="0.8" fill="#111"/>
<circle cx="659.1" cy="109.3" r="0.8" fill="#111"/>
<circle cx="653.5" cy="116.2" r="0.8" fill="#111"/>
<circle cx="652.1" cy="114.6" r="0.8" fill="#111"/>
<circle cx="653.2" cy="123.8" r="0.8" fill="#111"/>
<circle cx="654.2" cy="124.9" r="0.8" fill="#111"/>
<circle cx="655.8" cy="128.0" r="0.8" fill="#111"/>
<circle cx="658.2" cy="111.6" r="0.8" fill="#111"/>
<circle cx="655.8" cy="120.0" r="0.8" fill="#111"/>
<circle cx="654.1" cy="110.9" r="0.8" fill="#111"/>
<circle cx="657.2" cy="116.6" r="0.8" fill="#111"/>
<circle cx="656.6" cy="110.7" r="0.8" fill="#111"/>
<path d="M579.70,162.80 C579.73,164.33 579.73,170.00 579.90,172.00 C580.07,174.00 580.22,173.97 580.70,174.80 C581.18,175.63 581.82,176.13 582.80,177.00 C583.78,177.87 585.45,179.00 586.60,180.00 C587.75,181.00 588.78,182.00 589.70,183.00 C590.62,184.00 591.40,184.83 592.10,186.00 C592.80,187.17 593.45,188.67 593.90,190.00 C594.35,191.33 594.68,192.67 594.80,194.00 C594.92,195.33 594.77,196.67 594.60,198.00 C594.43,199.33 594.22,200.50 593.80,202.00 C593.38,203.50 592.68,205.45 592.10,207.00 C591.52,208.55 590.93,209.97 590.30,211.30 C589.67,212.63 588.92,213.62 588.30,215.00 C587.68,216.38 587.37,217.22 586.60,219.60 C585.83,221.98 584.55,226.07 583.70,229.30 C582.85,232.53 582.05,236.22 581.50,239.00 C580.95,241.78 580.67,243.33 580.40,246.00 C580.13,248.67 580.02,249.90 579.90,255.00 C579.78,260.10 579.73,273.00 579.70,276.60 L578.90,276.60 C578.87,273.00 578.82,260.10 578.70,255.00 C578.58,249.90 578.47,248.67 578.20,246.00 C577.93,243.33 577.65,241.78 577.10,239.00 C576.55,236.22 575.75,232.53 574.90,229.30 C574.05,226.07 572.77,221.98 572.00,219.60 C571.23,217.22 570.92,216.38 570.30,215.00 C569.68,213.62 568.93,212.63 568.30,211.30 C567.67,209.97 567.08,208.55 566.50,207.00 C565.92,205.45 565.22,203.50 564.80,202.00 C564.38,200.50 564.17,199.33 564.00,198.00 C563.83,196.67 563.68,195.33 563.80,194.00 C563.92,192.67 564.25,191.33 564.70,190.00 C565.15,188.67 565.80,187.17 566.50,186.00 C567.20,184.83 567.98,184.00 568.90,183.00 C569.82,182.00 570.85,181.00 572.00,180.00 C573.15,179.00 574.82,177.87 575.80,177.00 C576.78,176.13 577.42,175.63 577.90,174.80 C578.38,173.97 578.53,174.00 578.70,172.00 C578.87,170.00 578.87,164.33 578.90,162.80Z" fill="#c9302a" stroke="#111" stroke-width="0.9" stroke-linejoin="round"/>
<rect x="571.6" y="192.5" width="15.199999999999932" height="21.69999999999999" fill="#fff" stroke="#111" stroke-width="0.9"/>
<line x1="571.6" y1="199.8" x2="586.8" y2="199.8" stroke="#111" stroke-width="0.9"/>
<circle cx="579.9" cy="183.0" r="0.8" fill="#111"/>
<circle cx="575.7" cy="181.8" r="0.8" fill="#111"/>
<circle cx="577.5" cy="182.6" r="0.8" fill="#111"/>
<circle cx="577.3" cy="178.0" r="0.8" fill="#111"/>
<circle cx="582.9" cy="181.4" r="0.8" fill="#111"/>
<circle cx="582.5" cy="189.0" r="0.8" fill="#111"/>
<circle cx="575.2" cy="179.0" r="0.8" fill="#111"/>
<circle cx="578.0" cy="187.5" r="0.8" fill="#111"/>
<circle cx="581.1" cy="183.4" r="0.8" fill="#111"/>
<circle cx="576.5" cy="182.5" r="0.8" fill="#111"/>
<circle cx="575.3" cy="188.4" r="0.8" fill="#111"/>
<circle cx="577.4" cy="177.6" r="0.8" fill="#111"/>
<circle cx="575.2" cy="181.7" r="0.8" fill="#111"/>
<circle cx="577.1" cy="185.8" r="0.8" fill="#111"/>
<circle cx="578.0" cy="183.7" r="0.8" fill="#111"/>
<circle cx="575.3" cy="189.0" r="0.8" fill="#111"/>
<circle cx="575.3" cy="190.2" r="0.8" fill="#111"/>
<circle cx="581.9" cy="180.8" r="0.8" fill="#111"/>
<circle cx="581.0" cy="188.6" r="0.8" fill="#111"/>
<circle cx="575.7" cy="189.8" r="0.8" fill="#111"/>
<circle cx="583.1" cy="191.7" r="0.8" fill="#111"/>
<circle cx="582.2" cy="187.7" r="0.8" fill="#111"/>
<circle cx="575.4" cy="186.7" r="0.8" fill="#111"/>
<circle cx="579.4" cy="187.8" r="0.8" fill="#111"/>
<circle cx="581.6" cy="191.4" r="0.8" fill="#111"/>
<circle cx="579.7" cy="189.5" r="0.8" fill="#111"/>
<circle cx="579.7" cy="192.0" r="0.8" fill="#111"/>
<circle cx="578.0" cy="180.9" r="0.8" fill="#111"/>
<circle cx="577.6" cy="183.4" r="0.8" fill="#111"/>
<circle cx="577.0" cy="187.4" r="0.8" fill="#111"/>
<circle cx="583.1" cy="185.0" r="0.8" fill="#111"/>
<circle cx="582.7" cy="182.4" r="0.8" fill="#111"/>
<circle cx="576.4" cy="185.5" r="0.8" fill="#111"/>
<circle cx="579.0" cy="187.3" r="0.8" fill="#111"/>
<circle cx="575.9" cy="188.9" r="0.8" fill="#111"/>
<circle cx="576.7" cy="181.5" r="0.8" fill="#111"/>
<circle cx="577.2" cy="177.9" r="0.8" fill="#111"/>
<circle cx="575.9" cy="187.9" r="0.8" fill="#111"/>
<circle cx="578.1" cy="182.0" r="0.8" fill="#111"/>
<circle cx="575.0" cy="179.6" r="0.8" fill="#111"/>
<circle cx="575.6" cy="192.4" r="0.8" fill="#111"/>
<circle cx="579.2" cy="185.7" r="0.8" fill="#111"/>
<circle cx="579.7" cy="183.7" r="0.8" fill="#111"/>
<circle cx="583.1" cy="187.0" r="0.8" fill="#111"/>
<circle cx="577.1" cy="187.1" r="0.8" fill="#111"/>
<circle cx="581.7" cy="179.1" r="0.8" fill="#111"/>
<circle cx="576.5" cy="190.0" r="0.8" fill="#111"/>
<circle cx="583.1" cy="186.9" r="0.8" fill="#111"/>
<circle cx="577.8" cy="189.9" r="0.8" fill="#111"/>
<circle cx="579.7" cy="182.0" r="0.8" fill="#111"/>
<circle cx="577.0" cy="200.5" r="0.8" fill="#111"/>
<circle cx="580.4" cy="193.4" r="0.8" fill="#111"/>
<circle cx="582.9" cy="210.3" r="0.8" fill="#111"/>
<circle cx="579.3" cy="213.0" r="0.8" fill="#111"/>
<circle cx="580.0" cy="195.9" r="0.8" fill="#111"/>
<circle cx="576.3" cy="194.2" r="0.8" fill="#111"/>
<circle cx="578.8" cy="194.4" r="0.8" fill="#111"/>
<circle cx="574.9" cy="196.6" r="0.8" fill="#111"/>
<circle cx="577.4" cy="209.6" r="0.8" fill="#111"/>
<circle cx="578.6" cy="206.9" r="0.8" fill="#111"/>
<circle cx="580.8" cy="199.8" r="0.8" fill="#111"/>
<circle cx="578.8" cy="196.1" r="0.8" fill="#111"/>
<circle cx="576.6" cy="204.7" r="0.8" fill="#111"/>
<circle cx="579.0" cy="194.3" r="0.8" fill="#111"/>
<circle cx="582.0" cy="213.4" r="0.8" fill="#111"/>
<circle cx="580.3" cy="193.8" r="0.8" fill="#111"/>
<circle cx="583.3" cy="198.9" r="0.8" fill="#111"/>
<circle cx="577.5" cy="202.9" r="0.8" fill="#111"/>
<circle cx="575.1" cy="200.0" r="0.8" fill="#111"/>
<circle cx="578.8" cy="196.6" r="0.8" fill="#111"/>
<circle cx="578.2" cy="194.3" r="0.8" fill="#111"/>
<circle cx="579.6" cy="205.1" r="0.8" fill="#111"/>
<circle cx="575.9" cy="204.8" r="0.8" fill="#111"/>
<circle cx="579.7" cy="196.4" r="0.8" fill="#111"/>
<circle cx="577.1" cy="194.9" r="0.8" fill="#111"/>
<circle cx="577.1" cy="194.6" r="0.8" fill="#111"/>
<circle cx="576.9" cy="203.1" r="0.8" fill="#111"/>
<circle cx="579.4" cy="204.9" r="0.8" fill="#111"/>
<circle cx="578.5" cy="205.3" r="0.8" fill="#111"/>
<circle cx="582.5" cy="194.1" r="0.8" fill="#111"/>
<circle cx="581.6" cy="204.4" r="0.8" fill="#111"/>
<circle cx="581.3" cy="195.0" r="0.8" fill="#111"/>
<circle cx="578.3" cy="194.7" r="0.8" fill="#111"/>
<circle cx="579.9" cy="196.2" r="0.8" fill="#111"/>
<circle cx="581.7" cy="209.3" r="0.8" fill="#111"/>
<circle cx="578.2" cy="193.7" r="0.8" fill="#111"/>
<circle cx="576.8" cy="192.8" r="0.8" fill="#111"/>
<circle cx="578.6" cy="199.0" r="0.8" fill="#111"/>
<circle cx="582.6" cy="211.8" r="0.8" fill="#111"/>
<circle cx="581.5" cy="211.4" r="0.8" fill="#111"/>
<circle cx="580.9" cy="199.9" r="0.8" fill="#111"/>
<circle cx="578.2" cy="210.4" r="0.8" fill="#111"/>
<circle cx="580.2" cy="208.2" r="0.8" fill="#111"/>
<circle cx="582.0" cy="194.7" r="0.8" fill="#111"/>
<circle cx="580.8" cy="195.0" r="0.8" fill="#111"/>
<circle cx="578.8" cy="198.0" r="0.8" fill="#111"/>
<circle cx="575.9" cy="210.7" r="0.8" fill="#111"/>
<circle cx="581.9" cy="193.0" r="0.8" fill="#111"/>
<circle cx="577.5" cy="196.5" r="0.8" fill="#111"/>
<circle cx="576.2" cy="207.4" r="0.8" fill="#111"/>
<circle cx="581.0" cy="211.5" r="0.8" fill="#111"/>
<circle cx="576.2" cy="192.8" r="0.8" fill="#111"/>
<circle cx="581.9" cy="203.4" r="0.8" fill="#111"/>
<circle cx="582.1" cy="193.3" r="0.8" fill="#111"/>
<circle cx="579.1" cy="207.2" r="0.8" fill="#111"/>
<circle cx="578.4" cy="195.9" r="0.8" fill="#111"/>
<circle cx="575.6" cy="211.4" r="0.8" fill="#111"/>
<circle cx="582.8" cy="199.6" r="0.8" fill="#111"/>
<circle cx="576.4" cy="205.3" r="0.8" fill="#111"/>
<circle cx="580.0" cy="200.3" r="0.8" fill="#111"/>
<circle cx="575.0" cy="200.9" r="0.8" fill="#111"/>
<circle cx="575.1" cy="205.1" r="0.8" fill="#111"/>
<circle cx="580.8" cy="193.5" r="0.8" fill="#111"/>
<circle cx="579.3" cy="198.4" r="0.8" fill="#111"/>
<circle cx="579.5" cy="198.2" r="0.8" fill="#111"/>
<circle cx="581.7" cy="193.2" r="0.8" fill="#111"/>
<circle cx="578.1" cy="206.2" r="0.8" fill="#111"/>
<circle cx="582.6" cy="198.6" r="0.8" fill="#111"/>
<circle cx="581.4" cy="199.1" r="0.8" fill="#111"/>
<circle cx="578.0" cy="203.5" r="0.8" fill="#111"/>
<circle cx="575.4" cy="204.5" r="0.8" fill="#111"/>
<circle cx="583.6" cy="199.8" r="0.8" fill="#111"/>
<circle cx="577.0" cy="202.9" r="0.8" fill="#111"/>
<circle cx="576.1" cy="197.6" r="0.8" fill="#111"/>
<circle cx="578.9" cy="192.7" r="0.8" fill="#111"/>
<circle cx="577.6" cy="202.2" r="0.8" fill="#111"/>
<circle cx="577.6" cy="196.2" r="0.8" fill="#111"/>
<circle cx="579.8" cy="199.2" r="0.8" fill="#111"/>
<circle cx="583.0" cy="212.8" r="0.8" fill="#111"/>
<circle cx="576.5" cy="205.2" r="0.8" fill="#111"/>
<circle cx="578.7" cy="200.2" r="0.8" fill="#111"/>
<circle cx="579.2" cy="211.3" r="0.8" fill="#111"/>
<circle cx="577.2" cy="212.0" r="0.8" fill="#111"/>
<circle cx="577.3" cy="193.0" r="0.8" fill="#111"/>
<circle cx="578.4" cy="207.8" r="0.8" fill="#111"/>
<circle cx="582.5" cy="196.8" r="0.8" fill="#111"/>
<circle cx="581.4" cy="206.6" r="0.8" fill="#111"/>
<circle cx="575.6" cy="213.4" r="0.8" fill="#111"/>
<circle cx="576.6" cy="199.9" r="0.8" fill="#111"/>
<circle cx="580.5" cy="204.2" r="0.8" fill="#111"/>
<circle cx="577.8" cy="212.5" r="0.8" fill="#111"/>
<circle cx="578.5" cy="208.8" r="0.8" fill="#111"/>
<circle cx="575.4" cy="207.2" r="0.8" fill="#111"/>
<circle cx="580.4" cy="201.5" r="0.8" fill="#111"/>
<circle cx="580.2" cy="199.8" r="0.8" fill="#111"/>
<circle cx="575.0" cy="198.1" r="0.8" fill="#111"/>
<circle cx="583.6" cy="212.6" r="0.8" fill="#111"/>
<circle cx="581.3" cy="193.7" r="0.8" fill="#111"/>
<circle cx="576.3" cy="199.6" r="0.8" fill="#111"/>
<circle cx="575.7" cy="195.6" r="0.8" fill="#111"/>
<circle cx="580.7" cy="230.9" r="0.8" fill="#111"/>
<circle cx="581.6" cy="221.4" r="0.8" fill="#111"/>
<circle cx="580.2" cy="235.8" r="0.8" fill="#111"/>
<circle cx="583.2" cy="221.9" r="0.8" fill="#111"/>
<circle cx="579.1" cy="217.9" r="0.8" fill="#111"/>
<circle cx="576.1" cy="216.7" r="0.8" fill="#111"/>
<circle cx="579.8" cy="215.9" r="0.8" fill="#111"/>
<circle cx="576.5" cy="224.4" r="0.8" fill="#111"/>
<circle cx="581.7" cy="218.7" r="0.8" fill="#111"/>
<circle cx="582.4" cy="227.0" r="0.8" fill="#111"/>
<circle cx="575.5" cy="217.2" r="0.8" fill="#111"/>
<circle cx="579.5" cy="238.2" r="0.8" fill="#111"/>
<circle cx="577.2" cy="220.4" r="0.8" fill="#111"/>
<circle cx="576.9" cy="226.3" r="0.8" fill="#111"/>
<circle cx="576.3" cy="220.2" r="0.8" fill="#111"/>
<circle cx="582.7" cy="223.4" r="0.8" fill="#111"/>
<circle cx="580.2" cy="218.7" r="0.8" fill="#111"/>
<circle cx="580.1" cy="238.7" r="0.8" fill="#111"/>
<circle cx="580.2" cy="238.2" r="0.8" fill="#111"/>
<circle cx="583.5" cy="214.9" r="0.8" fill="#111"/>
<circle cx="576.2" cy="214.5" r="0.8" fill="#111"/>
<circle cx="578.0" cy="234.7" r="0.8" fill="#111"/>
<circle cx="578.6" cy="233.2" r="0.8" fill="#111"/>
<circle cx="581.9" cy="215.1" r="0.8" fill="#111"/>
<circle cx="579.3" cy="233.4" r="0.8" fill="#111"/>
<circle cx="575.8" cy="220.6" r="0.8" fill="#111"/>
<circle cx="576.1" cy="217.5" r="0.8" fill="#111"/>
<circle cx="580.8" cy="226.1" r="0.8" fill="#111"/>
<circle cx="579.3" cy="218.3" r="0.8" fill="#111"/>
<circle cx="579.3" cy="217.3" r="0.8" fill="#111"/>
<circle cx="577.2" cy="221.8" r="0.8" fill="#111"/>
<circle cx="579.4" cy="216.1" r="0.8" fill="#111"/>
<circle cx="578.1" cy="225.5" r="0.8" fill="#111"/>
<circle cx="580.6" cy="214.5" r="0.8" fill="#111"/>
<circle cx="578.6" cy="225.3" r="0.8" fill="#111"/>
<circle cx="576.2" cy="224.9" r="0.8" fill="#111"/>
<circle cx="579.4" cy="242.0" r="0.8" fill="#111"/>
<circle cx="577.9" cy="231.2" r="0.8" fill="#111"/>
<circle cx="582.3" cy="219.7" r="0.8" fill="#111"/>
<circle cx="577.8" cy="215.6" r="0.8" fill="#111"/>
<circle cx="582.4" cy="214.2" r="0.8" fill="#111"/>
<circle cx="580.3" cy="225.1" r="0.8" fill="#111"/>
<circle cx="579.9" cy="233.0" r="0.8" fill="#111"/>
<circle cx="580.0" cy="229.3" r="0.8" fill="#111"/>
<circle cx="577.4" cy="228.7" r="0.8" fill="#111"/>
<circle cx="582.1" cy="220.8" r="0.8" fill="#111"/>
<circle cx="579.0" cy="238.3" r="0.8" fill="#111"/>
<circle cx="577.1" cy="217.6" r="0.8" fill="#111"/>
<circle cx="582.0" cy="217.1" r="0.8" fill="#111"/>
<circle cx="576.5" cy="228.7" r="0.8" fill="#111"/>
<circle cx="575.0" cy="247.5" r="0.8" fill="#111"/>
<circle cx="575.5" cy="260.3" r="0.8" fill="#111"/>
<circle cx="581.0" cy="260.3" r="0.8" fill="#111"/>
<path d="M618.20,166.80 C618.25,167.67 618.27,170.80 618.50,172.00 C618.73,173.20 619.02,173.33 619.60,174.00 C620.18,174.67 621.13,175.25 622.00,176.00 C622.87,176.75 623.88,177.60 624.80,178.50 C625.72,179.40 626.53,180.32 627.50,181.40 C628.47,182.48 629.67,183.70 630.60,185.00 C631.53,186.30 632.40,187.70 633.10,189.20 C633.80,190.70 634.68,192.37 634.80,194.00 C634.92,195.63 634.45,197.22 633.80,199.00 C633.15,200.78 631.73,202.95 630.90,204.70 C630.07,206.45 629.45,207.88 628.80,209.50 C628.15,211.12 627.60,212.98 627.00,214.40 C626.40,215.82 625.67,216.78 625.20,218.00 C624.73,219.22 624.67,219.80 624.20,221.70 C623.73,223.60 623.07,226.82 622.40,229.40 C621.73,231.98 620.80,235.10 620.20,237.20 C619.60,239.30 619.10,240.20 618.80,242.00 C618.50,243.80 618.50,245.08 618.40,248.00 C618.30,250.92 618.23,257.58 618.20,259.50 L617.40,259.50 C617.37,257.58 617.30,250.92 617.20,248.00 C617.10,245.08 617.10,243.80 616.80,242.00 C616.50,240.20 616.00,239.30 615.40,237.20 C614.80,235.10 613.87,231.98 613.20,229.40 C612.53,226.82 611.87,223.60 611.40,221.70 C610.93,219.80 610.87,219.22 610.40,218.00 C609.93,216.78 609.20,215.82 608.60,214.40 C608.00,212.98 607.45,211.12 606.80,209.50 C606.15,207.88 605.53,206.45 604.70,204.70 C603.87,202.95 602.45,200.78 601.80,199.00 C601.15,197.22 600.68,195.63 600.80,194.00 C600.92,192.37 601.80,190.70 602.50,189.20 C603.20,187.70 604.07,186.30 605.00,185.00 C605.93,183.70 607.13,182.48 608.10,181.40 C609.07,180.32 609.88,179.40 610.80,178.50 C611.72,177.60 612.73,176.75 613.60,176.00 C614.47,175.25 615.42,174.67 616.00,174.00 C616.58,173.33 616.87,173.20 617.10,172.00 C617.33,170.80 617.35,167.67 617.40,166.80Z" fill="#e4ad2c" stroke="#111" stroke-width="0.9" stroke-linejoin="round"/>
<rect x="610" y="188.8" width="15.200000000000045" height="20.799999999999983" fill="#fff" stroke="#111" stroke-width="0.9"/>
<line x1="610" y1="199.9" x2="625.2" y2="199.9" stroke="#111" stroke-width="0.9"/>
<circle cx="617.6" cy="184.6" r="0.8" fill="#111"/>
<circle cx="614.7" cy="186.0" r="0.8" fill="#111"/>
<circle cx="618.0" cy="184.4" r="0.8" fill="#111"/>
<circle cx="616.4" cy="178.3" r="0.8" fill="#111"/>
<circle cx="615.2" cy="180.3" r="0.8" fill="#111"/>
<circle cx="615.0" cy="182.9" r="0.8" fill="#111"/>
<circle cx="616.3" cy="184.9" r="0.8" fill="#111"/>
<circle cx="617.1" cy="186.9" r="0.8" fill="#111"/>
<circle cx="616.7" cy="185.9" r="0.8" fill="#111"/>
<circle cx="619.1" cy="179.1" r="0.8" fill="#111"/>
<circle cx="616.8" cy="186.2" r="0.8" fill="#111"/>
<circle cx="619.3" cy="184.8" r="0.8" fill="#111"/>
<circle cx="620.1" cy="179.5" r="0.8" fill="#111"/>
<circle cx="617.8" cy="180.2" r="0.8" fill="#111"/>
<circle cx="613.6" cy="187.4" r="0.8" fill="#111"/>
<circle cx="617.5" cy="183.2" r="0.8" fill="#111"/>
<circle cx="617.6" cy="186.6" r="0.8" fill="#111"/>
<circle cx="617.7" cy="187.3" r="0.8" fill="#111"/>
<circle cx="616.9" cy="184.3" r="0.8" fill="#111"/>
<circle cx="615.3" cy="185.6" r="0.8" fill="#111"/>
<circle cx="619.5" cy="176.4" r="0.8" fill="#111"/>
<circle cx="619.4" cy="182.8" r="0.8" fill="#111"/>
<circle cx="613.9" cy="184.8" r="0.8" fill="#111"/>
<circle cx="618.5" cy="184.5" r="0.8" fill="#111"/>
<circle cx="621.1" cy="188.8" r="0.8" fill="#111"/>
<circle cx="618.0" cy="177.0" r="0.8" fill="#111"/>
<circle cx="616.2" cy="178.8" r="0.8" fill="#111"/>
<circle cx="617.1" cy="182.7" r="0.8" fill="#111"/>
<circle cx="620.9" cy="187.0" r="0.8" fill="#111"/>
<circle cx="613.9" cy="178.5" r="0.8" fill="#111"/>
<circle cx="617.5" cy="182.4" r="0.8" fill="#111"/>
<circle cx="616.6" cy="181.7" r="0.8" fill="#111"/>
<circle cx="621.5" cy="186.1" r="0.8" fill="#111"/>
<circle cx="616.2" cy="182.7" r="0.8" fill="#111"/>
<circle cx="618.4" cy="182.4" r="0.8" fill="#111"/>
<circle cx="620.4" cy="179.5" r="0.8" fill="#111"/>
<circle cx="617.4" cy="186.1" r="0.8" fill="#111"/>
<circle cx="621.1" cy="187.9" r="0.8" fill="#111"/>
<circle cx="621.0" cy="183.8" r="0.8" fill="#111"/>
<circle cx="615.3" cy="184.3" r="0.8" fill="#111"/>
<circle cx="621.5" cy="186.6" r="0.8" fill="#111"/>
<circle cx="614.2" cy="177.9" r="0.8" fill="#111"/>
<circle cx="613.9" cy="184.5" r="0.8" fill="#111"/>
<circle cx="620.8" cy="184.6" r="0.8" fill="#111"/>
<circle cx="618.5" cy="179.1" r="0.8" fill="#111"/>
<circle cx="613.7" cy="188.5" r="0.8" fill="#111"/>
<circle cx="619.4" cy="185.0" r="0.8" fill="#111"/>
<circle cx="618.0" cy="188.7" r="0.8" fill="#111"/>
<circle cx="620.0" cy="179.0" r="0.8" fill="#111"/>
<circle cx="618.2" cy="186.9" r="0.8" fill="#111"/>
<circle cx="615.8" cy="190.6" r="0.8" fill="#111"/>
<circle cx="613.7" cy="193.5" r="0.8" fill="#111"/>
<circle cx="619.2" cy="196.0" r="0.8" fill="#111"/>
<circle cx="617.4" cy="189.8" r="0.8" fill="#111"/>
<circle cx="615.0" cy="193.9" r="0.8" fill="#111"/>
<circle cx="614.0" cy="205.2" r="0.8" fill="#111"/>
<circle cx="618.3" cy="200.4" r="0.8" fill="#111"/>
<circle cx="617.5" cy="205.2" r="0.8" fill="#111"/>
<circle cx="614.3" cy="189.5" r="0.8" fill="#111"/>
<circle cx="618.5" cy="202.3" r="0.8" fill="#111"/>
<circle cx="619.2" cy="196.1" r="0.8" fill="#111"/>
<circle cx="621.7" cy="192.2" r="0.8" fill="#111"/>
<circle cx="621.1" cy="195.7" r="0.8" fill="#111"/>
<circle cx="614.2" cy="198.8" r="0.8" fill="#111"/>
<circle cx="617.8" cy="207.1" r="0.8" fill="#111"/>
<circle cx="617.5" cy="199.9" r="0.8" fill="#111"/>
<circle cx="617.9" cy="192.2" r="0.8" fill="#111"/>
<circle cx="617.0" cy="196.4" r="0.8" fill="#111"/>
<circle cx="615.5" cy="193.0" r="0.8" fill="#111"/>
<circle cx="621.2" cy="206.9" r="0.8" fill="#111"/>
<circle cx="618.4" cy="199.0" r="0.8" fill="#111"/>
<circle cx="620.0" cy="203.1" r="0.8" fill="#111"/>
<circle cx="613.7" cy="192.0" r="0.8" fill="#111"/>
<circle cx="616.0" cy="197.0" r="0.8" fill="#111"/>
<circle cx="618.5" cy="207.3" r="0.8" fill="#111"/>
<circle cx="620.3" cy="193.7" r="0.8" fill="#111"/>
<circle cx="615.6" cy="203.6" r="0.8" fill="#111"/>
<circle cx="619.5" cy="189.7" r="0.8" fill="#111"/>
<circle cx="620.5" cy="205.7" r="0.8" fill="#111"/>
<circle cx="613.5" cy="198.4" r="0.8" fill="#111"/>
<circle cx="617.0" cy="208.4" r="0.8" fill="#111"/>
<circle cx="619.9" cy="190.6" r="0.8" fill="#111"/>
<circle cx="616.4" cy="202.9" r="0.8" fill="#111"/>
<circle cx="615.3" cy="191.7" r="0.8" fill="#111"/>
<circle cx="622.2" cy="195.7" r="0.8" fill="#111"/>
<circle cx="617.8" cy="205.3" r="0.8" fill="#111"/>
<circle cx="615.2" cy="204.4" r="0.8" fill="#111"/>
<circle cx="620.3" cy="201.8" r="0.8" fill="#111"/>
<circle cx="616.5" cy="190.7" r="0.8" fill="#111"/>
<circle cx="614.6" cy="202.8" r="0.8" fill="#111"/>
<circle cx="620.7" cy="201.1" r="0.8" fill="#111"/>
<circle cx="618.1" cy="195.0" r="0.8" fill="#111"/>
<circle cx="621.9" cy="208.5" r="0.8" fill="#111"/>
<circle cx="620.8" cy="205.2" r="0.8" fill="#111"/>
<circle cx="617.4" cy="193.6" r="0.8" fill="#111"/>
<circle cx="621.4" cy="193.7" r="0.8" fill="#111"/>
<circle cx="616.8" cy="203.1" r="0.8" fill="#111"/>
<circle cx="614.2" cy="206.0" r="0.8" fill="#111"/>
<circle cx="616.4" cy="202.4" r="0.8" fill="#111"/>
<circle cx="620.4" cy="201.2" r="0.8" fill="#111"/>
<circle cx="613.5" cy="188.9" r="0.8" fill="#111"/>
<circle cx="617.1" cy="191.1" r="0.8" fill="#111"/>
<circle cx="616.4" cy="201.4" r="0.8" fill="#111"/>
<circle cx="620.8" cy="193.2" r="0.8" fill="#111"/>
<circle cx="614.2" cy="201.7" r="0.8" fill="#111"/>
<circle cx="617.3" cy="194.4" r="0.8" fill="#111"/>
<circle cx="614.5" cy="202.5" r="0.8" fill="#111"/>
<circle cx="620.6" cy="203.0" r="0.8" fill="#111"/>
<circle cx="621.8" cy="192.6" r="0.8" fill="#111"/>
<circle cx="621.2" cy="196.3" r="0.8" fill="#111"/>
<circle cx="621.8" cy="197.0" r="0.8" fill="#111"/>
<circle cx="614.8" cy="192.7" r="0.8" fill="#111"/>
<circle cx="614.9" cy="199.8" r="0.8" fill="#111"/>
<circle cx="620.5" cy="208.5" r="0.8" fill="#111"/>
<circle cx="614.3" cy="194.0" r="0.8" fill="#111"/>
<circle cx="617.9" cy="200.3" r="0.8" fill="#111"/>
<circle cx="621.3" cy="196.6" r="0.8" fill="#111"/>
<circle cx="618.9" cy="202.7" r="0.8" fill="#111"/>
<circle cx="619.0" cy="196.3" r="0.8" fill="#111"/>
<circle cx="619.4" cy="196.6" r="0.8" fill="#111"/>
<circle cx="616.6" cy="207.7" r="0.8" fill="#111"/>
<circle cx="620.7" cy="209.1" r="0.8" fill="#111"/>
<circle cx="617.3" cy="203.0" r="0.8" fill="#111"/>
<circle cx="613.7" cy="204.0" r="0.8" fill="#111"/>
<circle cx="621.8" cy="195.6" r="0.8" fill="#111"/>
<circle cx="618.6" cy="207.3" r="0.8" fill="#111"/>
<circle cx="616.9" cy="200.8" r="0.8" fill="#111"/>
<circle cx="615.9" cy="204.3" r="0.8" fill="#111"/>
<circle cx="618.2" cy="204.7" r="0.8" fill="#111"/>
<circle cx="619.4" cy="202.3" r="0.8" fill="#111"/>
<circle cx="619.6" cy="196.7" r="0.8" fill="#111"/>
<circle cx="614.8" cy="203.2" r="0.8" fill="#111"/>
<circle cx="620.4" cy="200.8" r="0.8" fill="#111"/>
<circle cx="617.9" cy="196.0" r="0.8" fill="#111"/>
<circle cx="619.9" cy="207.0" r="0.8" fill="#111"/>
<circle cx="613.9" cy="192.4" r="0.8" fill="#111"/>
<circle cx="621.9" cy="195.0" r="0.8" fill="#111"/>
<circle cx="616.1" cy="208.8" r="0.8" fill="#111"/>
<circle cx="616.2" cy="208.4" r="0.8" fill="#111"/>
<circle cx="615.7" cy="197.9" r="0.8" fill="#111"/>
<circle cx="621.9" cy="197.0" r="0.8" fill="#111"/>
<circle cx="621.4" cy="194.4" r="0.8" fill="#111"/>
<circle cx="619.0" cy="198.2" r="0.8" fill="#111"/>
<circle cx="614.7" cy="205.0" r="0.8" fill="#111"/>
<circle cx="618.3" cy="204.5" r="0.8" fill="#111"/>
<circle cx="615.8" cy="202.7" r="0.8" fill="#111"/>
<circle cx="618.1" cy="196.3" r="0.8" fill="#111"/>
<circle cx="615.7" cy="194.8" r="0.8" fill="#111"/>
<circle cx="620.7" cy="204.8" r="0.8" fill="#111"/>
<circle cx="621.7" cy="200.6" r="0.8" fill="#111"/>
<circle cx="614.0" cy="216.6" r="0.8" fill="#111"/>
<circle cx="620.2" cy="227.5" r="0.8" fill="#111"/>
<circle cx="619.1" cy="212.5" r="0.8" fill="#111"/>
<circle cx="617.1" cy="229.2" r="0.8" fill="#111"/>
<circle cx="615.9" cy="230.9" r="0.8" fill="#111"/>
<circle cx="617.1" cy="233.4" r="0.8" fill="#111"/>
<circle cx="617.8" cy="211.3" r="0.8" fill="#111"/>
<circle cx="618.4" cy="224.9" r="0.8" fill="#111"/>
<circle cx="620.0" cy="213.6" r="0.8" fill="#111"/>
<circle cx="618.8" cy="232.8" r="0.8" fill="#111"/>
<circle cx="618.7" cy="216.9" r="0.8" fill="#111"/>
<circle cx="616.2" cy="231.4" r="0.8" fill="#111"/>
<circle cx="619.3" cy="215.5" r="0.8" fill="#111"/>
<circle cx="616.3" cy="211.5" r="0.8" fill="#111"/>
<circle cx="614.6" cy="209.7" r="0.8" fill="#111"/>
<circle cx="617.3" cy="216.9" r="0.8" fill="#111"/>
<circle cx="614.4" cy="210.6" r="0.8" fill="#111"/>
<circle cx="616.4" cy="215.5" r="0.8" fill="#111"/>
<circle cx="615.3" cy="218.3" r="0.8" fill="#111"/>
<circle cx="619.9" cy="230.5" r="0.8" fill="#111"/>
<circle cx="613.6" cy="210.4" r="0.8" fill="#111"/>
<circle cx="614.0" cy="222.9" r="0.8" fill="#111"/>
<circle cx="617.9" cy="225.0" r="0.8" fill="#111"/>
<circle cx="621.0" cy="225.1" r="0.8" fill="#111"/>
<circle cx="617.7" cy="235.6" r="0.8" fill="#111"/>
<circle cx="619.4" cy="213.1" r="0.8" fill="#111"/>
<circle cx="616.9" cy="218.6" r="0.8" fill="#111"/>
<circle cx="619.9" cy="217.1" r="0.8" fill="#111"/>
<circle cx="615.1" cy="223.2" r="0.8" fill="#111"/>
<circle cx="616.1" cy="228.2" r="0.8" fill="#111"/>
<circle cx="613.5" cy="211.3" r="0.8" fill="#111"/>
<circle cx="616.6" cy="226.2" r="0.8" fill="#111"/>
<circle cx="622.1" cy="213.9" r="0.8" fill="#111"/>
<circle cx="614.9" cy="217.7" r="0.8" fill="#111"/>
<circle cx="614.8" cy="212.3" r="0.8" fill="#111"/>
<circle cx="615.6" cy="231.3" r="0.8" fill="#111"/>
<circle cx="615.2" cy="224.5" r="0.8" fill="#111"/>
<circle cx="621.4" cy="216.3" r="0.8" fill="#111"/>
<circle cx="620.0" cy="228.9" r="0.8" fill="#111"/>
<circle cx="615.2" cy="231.8" r="0.8" fill="#111"/>
<circle cx="616.7" cy="215.3" r="0.8" fill="#111"/>
<circle cx="620.3" cy="209.8" r="0.8" fill="#111"/>
<circle cx="621.2" cy="221.8" r="0.8" fill="#111"/>
<circle cx="616.2" cy="223.7" r="0.8" fill="#111"/>
<circle cx="621.4" cy="215.0" r="0.8" fill="#111"/>
<circle cx="618.6" cy="219.7" r="0.8" fill="#111"/>
<circle cx="617.4" cy="212.9" r="0.8" fill="#111"/>
<circle cx="614.6" cy="228.3" r="0.8" fill="#111"/>
<circle cx="617.6" cy="228.7" r="0.8" fill="#111"/>
<circle cx="618.9" cy="228.4" r="0.8" fill="#111"/>
<circle cx="620.0" cy="246.0" r="0.8" fill="#111"/>
<path d="M656.80,162.80 C656.83,164.12 656.80,169.00 657.00,170.70 C657.20,172.40 657.53,172.20 658.00,173.00 C658.47,173.80 658.77,174.27 659.80,175.50 C660.83,176.73 662.67,178.78 664.20,180.40 C665.73,182.02 667.72,183.75 669.00,185.20 C670.28,186.65 671.33,187.80 671.90,189.10 C672.47,190.40 672.55,191.38 672.40,193.00 C672.25,194.62 671.47,196.97 671.00,198.80 C670.53,200.63 670.10,202.05 669.60,204.00 C669.10,205.95 668.75,208.12 668.00,210.50 C667.25,212.88 666.03,216.05 665.10,218.30 C664.17,220.55 663.18,222.17 662.40,224.00 C661.62,225.83 661.00,226.80 660.40,229.30 C659.80,231.80 659.22,235.77 658.80,239.00 C658.38,242.23 658.17,245.47 657.90,248.70 C657.63,251.93 657.38,254.97 657.20,258.40 C657.02,261.83 656.87,267.48 656.80,269.30 L656.00,269.30 C655.93,267.48 655.78,261.83 655.60,258.40 C655.42,254.97 655.17,251.93 654.90,248.70 C654.63,245.47 654.42,242.23 654.00,239.00 C653.58,235.77 653.00,231.80 652.40,229.30 C651.80,226.80 651.18,225.83 650.40,224.00 C649.62,222.17 648.63,220.55 647.70,218.30 C646.77,216.05 645.55,212.88 644.80,210.50 C644.05,208.12 643.70,205.95 643.20,204.00 C642.70,202.05 642.27,200.63 641.80,198.80 C641.33,196.97 640.55,194.62 640.40,193.00 C640.25,191.38 640.33,190.40 640.90,189.10 C641.47,187.80 642.52,186.65 643.80,185.20 C645.08,183.75 647.07,182.02 648.60,180.40 C650.13,178.78 651.97,176.73 653.00,175.50 C654.03,174.27 654.33,173.80 654.80,173.00 C655.27,172.20 655.60,172.40 655.80,170.70 C656.00,169.00 655.97,164.12 656.00,162.80Z" fill="#3c9a23" stroke="#111" stroke-width="0.9" stroke-linejoin="round"/>
<rect x="648.6" y="188.2" width="15.600000000000023" height="26.0" fill="#fff" stroke="#111" stroke-width="0.9"/>
<line x1="648.6" y1="199.8" x2="664.2" y2="199.8" stroke="#111" stroke-width="0.9"/>
<circle cx="653.2" cy="184.4" r="0.8" fill="#111"/>
<circle cx="652.6" cy="187.1" r="0.8" fill="#111"/>
<circle cx="658.9" cy="178.8" r="0.8" fill="#111"/>
<circle cx="658.5" cy="186.1" r="0.8" fill="#111"/>
<circle cx="659.3" cy="176.5" r="0.8" fill="#111"/>
<circle cx="652.4" cy="185.8" r="0.8" fill="#111"/>
<circle cx="660.1" cy="187.4" r="0.8" fill="#111"/>
<circle cx="652.2" cy="179.2" r="0.8" fill="#111"/>
<circle cx="660.6" cy="185.2" r="0.8" fill="#111"/>
<circle cx="659.1" cy="184.7" r="0.8" fill="#111"/>
<circle cx="652.0" cy="186.9" r="0.8" fill="#111"/>
<circle cx="659.2" cy="186.4" r="0.8" fill="#111"/>
<circle cx="657.2" cy="182.1" r="0.8" fill="#111"/>
<circle cx="652.5" cy="185.8" r="0.8" fill="#111"/>
<circle cx="655.5" cy="182.7" r="0.8" fill="#111"/>
<circle cx="653.1" cy="185.9" r="0.8" fill="#111"/>
<circle cx="655.8" cy="183.9" r="0.8" fill="#111"/>
<circle cx="652.8" cy="182.7" r="0.8" fill="#111"/>
<circle cx="655.2" cy="186.3" r="0.8" fill="#111"/>
<circle cx="652.1" cy="187.9" r="0.8" fill="#111"/>
<circle cx="657.7" cy="176.9" r="0.8" fill="#111"/>
<circle cx="656.0" cy="183.3" r="0.8" fill="#111"/>
<circle cx="660.0" cy="184.9" r="0.8" fill="#111"/>
<circle cx="652.3" cy="186.2" r="0.8" fill="#111"/>
<circle cx="655.1" cy="179.1" r="0.8" fill="#111"/>
<circle cx="655.9" cy="180.0" r="0.8" fill="#111"/>
<circle cx="660.2" cy="188.0" r="0.8" fill="#111"/>
<circle cx="660.7" cy="185.3" r="0.8" fill="#111"/>
<circle cx="654.2" cy="185.2" r="0.8" fill="#111"/>
<circle cx="654.0" cy="181.0" r="0.8" fill="#111"/>
<circle cx="654.9" cy="186.8" r="0.8" fill="#111"/>
<circle cx="659.8" cy="185.4" r="0.8" fill="#111"/>
<circle cx="652.9" cy="185.7" r="0.8" fill="#111"/>
<circle cx="657.5" cy="186.1" r="0.8" fill="#111"/>
<circle cx="656.7" cy="187.8" r="0.8" fill="#111"/>
<circle cx="660.3" cy="183.9" r="0.8" fill="#111"/>
<circle cx="654.9" cy="177.1" r="0.8" fill="#111"/>
<circle cx="654.3" cy="187.1" r="0.8" fill="#111"/>
<circle cx="658.6" cy="184.4" r="0.8" fill="#111"/>
<circle cx="654.3" cy="185.2" r="0.8" fill="#111"/>
<circle cx="660.5" cy="178.6" r="0.8" fill="#111"/>
<circle cx="657.8" cy="183.8" r="0.8" fill="#111"/>
<circle cx="654.7" cy="183.3" r="0.8" fill="#111"/>
<circle cx="653.1" cy="176.8" r="0.8" fill="#111"/>
<circle cx="653.0" cy="180.4" r="0.8" fill="#111"/>
<circle cx="658.8" cy="184.4" r="0.8" fill="#111"/>
<circle cx="654.7" cy="178.2" r="0.8" fill="#111"/>
<circle cx="654.4" cy="185.8" r="0.8" fill="#111"/>
<circle cx="658.6" cy="176.1" r="0.8" fill="#111"/>
<circle cx="653.6" cy="183.2" r="0.8" fill="#111"/>
<circle cx="660.6" cy="191.9" r="0.8" fill="#111"/>
<circle cx="657.0" cy="198.2" r="0.8" fill="#111"/>
<circle cx="652.1" cy="194.0" r="0.8" fill="#111"/>
<circle cx="660.5" cy="210.4" r="0.8" fill="#111"/>
<circle cx="653.2" cy="197.7" r="0.8" fill="#111"/>
<circle cx="655.2" cy="208.7" r="0.8" fill="#111"/>
<circle cx="654.2" cy="201.8" r="0.8" fill="#111"/>
<circle cx="655.4" cy="208.9" r="0.8" fill="#111"/>
<circle cx="653.7" cy="208.1" r="0.8" fill="#111"/>
<circle cx="655.2" cy="193.9" r="0.8" fill="#111"/>
<circle cx="659.7" cy="204.9" r="0.8" fill="#111"/>
<circle cx="659.4" cy="189.5" r="0.8" fill="#111"/>
<circle cx="655.9" cy="194.3" r="0.8" fill="#111"/>
<circle cx="658.3" cy="191.2" r="0.8" fill="#111"/>
<circle cx="656.2" cy="190.6" r="0.8" fill="#111"/>
<circle cx="655.9" cy="192.7" r="0.8" fill="#111"/>
<circle cx="655.2" cy="191.3" r="0.8" fill="#111"/>
<circle cx="654.0" cy="202.6" r="0.8" fill="#111"/>
<circle cx="659.7" cy="207.5" r="0.8" fill="#111"/>
<circle cx="656.6" cy="191.1" r="0.8" fill="#111"/>
<circle cx="659.6" cy="194.4" r="0.8" fill="#111"/>
<circle cx="654.3" cy="193.7" r="0.8" fill="#111"/>
<circle cx="658.4" cy="212.2" r="0.8" fill="#111"/>
<circle cx="654.8" cy="190.1" r="0.8" fill="#111"/>
<circle cx="655.2" cy="193.5" r="0.8" fill="#111"/>
<circle cx="656.2" cy="191.3" r="0.8" fill="#111"/>
<circle cx="657.7" cy="192.9" r="0.8" fill="#111"/>
<circle cx="656.1" cy="201.6" r="0.8" fill="#111"/>
<circle cx="654.1" cy="207.5" r="0.8" fill="#111"/>
<circle cx="657.7" cy="201.2" r="0.8" fill="#111"/>
<circle cx="660.3" cy="192.0" r="0.8" fill="#111"/>
<circle cx="653.6" cy="197.8" r="0.8" fill="#111"/>
<circle cx="659.9" cy="194.1" r="0.8" fill="#111"/>
<circle cx="652.3" cy="190.3" r="0.8" fill="#111"/>
<circle cx="653.7" cy="199.6" r="0.8" fill="#111"/>
<circle cx="660.3" cy="207.7" r="0.8" fill="#111"/>
<circle cx="652.1" cy="198.7" r="0.8" fill="#111"/>
<circle cx="656.2" cy="212.9" r="0.8" fill="#111"/>
<circle cx="659.3" cy="204.4" r="0.8" fill="#111"/>
<circle cx="660.5" cy="200.1" r="0.8" fill="#111"/>
<circle cx="655.0" cy="196.6" r="0.8" fill="#111"/>
<circle cx="655.3" cy="205.6" r="0.8" fill="#111"/>
<circle cx="652.0" cy="192.4" r="0.8" fill="#111"/>
<circle cx="656.0" cy="204.0" r="0.8" fill="#111"/>
<circle cx="653.2" cy="202.8" r="0.8" fill="#111"/>
<circle cx="660.5" cy="194.5" r="0.8" fill="#111"/>
<circle cx="656.6" cy="192.1" r="0.8" fill="#111"/>
<circle cx="653.5" cy="189.7" r="0.8" fill="#111"/>
<circle cx="655.6" cy="203.4" r="0.8" fill="#111"/>
<circle cx="659.6" cy="211.3" r="0.8" fill="#111"/>
<circle cx="660.3" cy="213.1" r="0.8" fill="#111"/>
<circle cx="660.1" cy="198.8" r="0.8" fill="#111"/>
<circle cx="654.5" cy="190.9" r="0.8" fill="#111"/>
<circle cx="656.7" cy="210.8" r="0.8" fill="#111"/>
<circle cx="653.0" cy="205.2" r="0.8" fill="#111"/>
<circle cx="657.2" cy="194.5" r="0.8" fill="#111"/>
<circle cx="652.7" cy="213.2" r="0.8" fill="#111"/>
<circle cx="653.6" cy="211.5" r="0.8" fill="#111"/>
<circle cx="654.1" cy="206.2" r="0.8" fill="#111"/>
<circle cx="658.0" cy="197.7" r="0.8" fill="#111"/>
<circle cx="657.5" cy="190.1" r="0.8" fill="#111"/>
<circle cx="659.0" cy="200.5" r="0.8" fill="#111"/>
<circle cx="658.0" cy="188.4" r="0.8" fill="#111"/>
<circle cx="653.6" cy="206.6" r="0.8" fill="#111"/>
<circle cx="660.4" cy="194.3" r="0.8" fill="#111"/>
<circle cx="660.5" cy="193.6" r="0.8" fill="#111"/>
<circle cx="658.5" cy="211.6" r="0.8" fill="#111"/>
<circle cx="658.7" cy="197.6" r="0.8" fill="#111"/>
<circle cx="653.9" cy="191.5" r="0.8" fill="#111"/>
<circle cx="653.2" cy="195.1" r="0.8" fill="#111"/>
<circle cx="652.7" cy="198.8" r="0.8" fill="#111"/>
<circle cx="658.2" cy="203.2" r="0.8" fill="#111"/>
<circle cx="656.2" cy="199.6" r="0.8" fill="#111"/>
<circle cx="653.4" cy="188.7" r="0.8" fill="#111"/>
<circle cx="658.2" cy="204.9" r="0.8" fill="#111"/>
<circle cx="658.7" cy="213.3" r="0.8" fill="#111"/>
<circle cx="659.2" cy="196.0" r="0.8" fill="#111"/>
<circle cx="653.7" cy="211.0" r="0.8" fill="#111"/>
<circle cx="658.4" cy="188.6" r="0.8" fill="#111"/>
<circle cx="652.0" cy="195.3" r="0.8" fill="#111"/>
<circle cx="652.0" cy="192.7" r="0.8" fill="#111"/>
<circle cx="658.3" cy="194.2" r="0.8" fill="#111"/>
<circle cx="653.0" cy="213.9" r="0.8" fill="#111"/>
<circle cx="656.6" cy="192.1" r="0.8" fill="#111"/>
<circle cx="656.2" cy="196.5" r="0.8" fill="#111"/>
<circle cx="652.7" cy="194.9" r="0.8" fill="#111"/>
<circle cx="657.5" cy="192.4" r="0.8" fill="#111"/>
<circle cx="659.0" cy="206.3" r="0.8" fill="#111"/>
<circle cx="656.3" cy="207.1" r="0.8" fill="#111"/>
<circle cx="656.9" cy="193.1" r="0.8" fill="#111"/>
<circle cx="658.1" cy="189.5" r="0.8" fill="#111"/>
<circle cx="654.0" cy="198.2" r="0.8" fill="#111"/>
<circle cx="653.7" cy="190.6" r="0.8" fill="#111"/>
<circle cx="652.8" cy="208.8" r="0.8" fill="#111"/>
<circle cx="653.2" cy="205.4" r="0.8" fill="#111"/>
<circle cx="652.9" cy="193.2" r="0.8" fill="#111"/>
<circle cx="654.3" cy="204.7" r="0.8" fill="#111"/>
<circle cx="658.4" cy="199.2" r="0.8" fill="#111"/>
<circle cx="653.9" cy="189.0" r="0.8" fill="#111"/>
<circle cx="658.1" cy="195.8" r="0.8" fill="#111"/>
<circle cx="657.8" cy="220.5" r="0.8" fill="#111"/>
<circle cx="654.0" cy="222.2" r="0.8" fill="#111"/>
<circle cx="652.8" cy="215.9" r="0.8" fill="#111"/>
<circle cx="653.3" cy="215.7" r="0.8" fill="#111"/>
<circle cx="654.0" cy="228.4" r="0.8" fill="#111"/>
<circle cx="655.4" cy="217.5" r="0.8" fill="#111"/>
<circle cx="657.4" cy="229.1" r="0.8" fill="#111"/>
<circle cx="656.2" cy="221.0" r="0.8" fill="#111"/>
<circle cx="660.0" cy="225.6" r="0.8" fill="#111"/>
<circle cx="657.6" cy="217.4" r="0.8" fill="#111"/>
<circle cx="660.6" cy="222.8" r="0.8" fill="#111"/>
<circle cx="656.3" cy="242.2" r="0.8" fill="#111"/>
<circle cx="654.5" cy="233.3" r="0.8" fill="#111"/>
<circle cx="655.7" cy="227.7" r="0.8" fill="#111"/>
<circle cx="658.8" cy="215.8" r="0.8" fill="#111"/>
<circle cx="652.6" cy="218.4" r="0.8" fill="#111"/>
<circle cx="659.3" cy="219.3" r="0.8" fill="#111"/>
<circle cx="658.7" cy="219.4" r="0.8" fill="#111"/>
<circle cx="653.7" cy="227.3" r="0.8" fill="#111"/>
<circle cx="658.5" cy="217.8" r="0.8" fill="#111"/>
<circle cx="656.2" cy="232.8" r="0.8" fill="#111"/>
<circle cx="660.4" cy="218.2" r="0.8" fill="#111"/>
<circle cx="655.0" cy="217.5" r="0.8" fill="#111"/>
<circle cx="656.1" cy="221.8" r="0.8" fill="#111"/>
<circle cx="656.9" cy="244.7" r="0.8" fill="#111"/>
<circle cx="658.6" cy="224.1" r="0.8" fill="#111"/>
<circle cx="655.7" cy="224.7" r="0.8" fill="#111"/>
<circle cx="657.6" cy="231.9" r="0.8" fill="#111"/>
<circle cx="655.3" cy="222.4" r="0.8" fill="#111"/>
<circle cx="653.0" cy="225.1" r="0.8" fill="#111"/>
<circle cx="656.5" cy="240.1" r="0.8" fill="#111"/>
<circle cx="657.9" cy="234.3" r="0.8" fill="#111"/>
<circle cx="654.2" cy="220.8" r="0.8" fill="#111"/>
<circle cx="652.2" cy="217.3" r="0.8" fill="#111"/>
<circle cx="655.3" cy="238.7" r="0.8" fill="#111"/>
<circle cx="653.7" cy="216.3" r="0.8" fill="#111"/>
<circle cx="658.3" cy="228.4" r="0.8" fill="#111"/>
<circle cx="659.3" cy="217.5" r="0.8" fill="#111"/>
<circle cx="655.9" cy="234.7" r="0.8" fill="#111"/>
<circle cx="657.9" cy="235.6" r="0.8" fill="#111"/>
<circle cx="655.8" cy="215.3" r="0.8" fill="#111"/>
<circle cx="659.2" cy="217.0" r="0.8" fill="#111"/>
<circle cx="657.3" cy="238.9" r="0.8" fill="#111"/>
<circle cx="658.4" cy="223.5" r="0.8" fill="#111"/>
<circle cx="656.4" cy="220.0" r="0.8" fill="#111"/>
<circle cx="658.1" cy="234.8" r="0.8" fill="#111"/>
<circle cx="657.4" cy="238.7" r="0.8" fill="#111"/>
<circle cx="659.9" cy="214.9" r="0.8" fill="#111"/>
<circle cx="657.0" cy="231.4" r="0.8" fill="#111"/>
<circle cx="655.4" cy="232.7" r="0.8" fill="#111"/>
<circle cx="652.2" cy="246.3" r="0.8" fill="#111"/>
<circle cx="659.5" cy="246.3" r="0.8" fill="#111"/>
<circle cx="652.2" cy="252.3" r="0.8" fill="#111"/>
</svg>
</body></html>
